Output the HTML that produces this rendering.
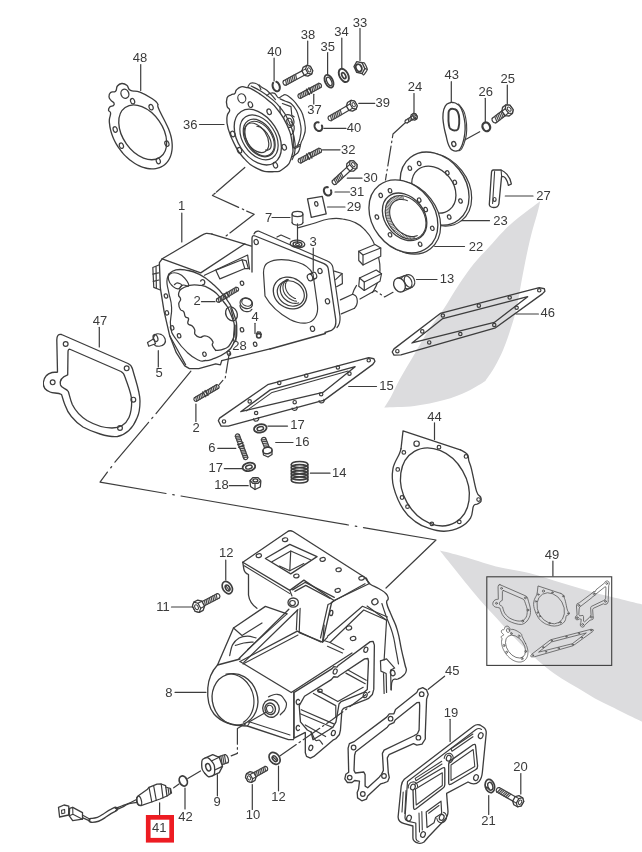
<!DOCTYPE html>
<html><head><meta charset="utf-8"><title>Parts diagram</title>
<style>
html,body{margin:0;padding:0;background:#fff;}
body{width:642px;height:852px;overflow:hidden;font-family:"Liberation Sans",sans-serif;}
svg{display:block;will-change:transform}
svg .mini *{vector-effect:non-scaling-stroke;stroke-width:0.8px}
svg text{font-family:"Liberation Sans",sans-serif;fill:#3a3a3a;stroke:none}
</style></head><body>
<svg width="642" height="852" viewBox="0 0 642 852">
<defs><filter id="soft" x="0" y="0" width="100%" height="100%" filterUnits="objectBoundingBox"><feGaussianBlur stdDeviation="0.45"/></filter></defs>
<rect x="0" y="0" width="642" height="852" fill="#ffffff"/>
<g filter="url(#soft)" fill="none" stroke="#3d3d3d" stroke-linecap="round" stroke-linejoin="round">
<path d="M540.2 201.2 C536.5 204.0 524.2 213.1 518.0 218.1 C511.8 223.1 508.1 226.5 503.2 231.4 C498.3 236.3 493.3 242.3 488.4 247.7 C483.5 253.1 478.5 257.8 473.6 264.0 C468.7 270.2 463.7 277.3 458.8 284.7 C453.9 292.1 448.9 301.0 444.0 308.4 C439.1 315.8 434.1 321.5 429.2 329.1 C424.3 336.7 419.3 345.8 414.4 354.2 C409.5 362.6 403.6 372.2 399.6 379.4 C395.7 386.6 393.3 392.5 390.7 397.2 C388.1 401.9 385.3 405.8 384.2 407.5 C389.2 407.2 404.4 407.2 414.4 406.0 C424.4 404.8 435.1 402.6 444.0 400.1 C452.9 397.6 460.8 394.4 467.7 391.2 C474.6 388.0 482.4 382.6 485.4 380.9 C486.9 378.7 491.3 372.8 494.3 367.6 C497.3 362.4 500.5 356.2 503.2 349.8 C505.9 343.4 508.4 336.0 510.6 329.1 C512.8 322.2 514.8 315.8 516.5 308.4 C518.2 301.0 519.4 292.6 520.9 284.7 C522.4 276.8 523.7 269.4 525.4 261.0 C527.1 252.6 529.3 242.3 531.3 234.4 C533.3 226.5 535.7 219.2 537.2 213.7 C538.7 208.2 539.7 203.3 540.2 201.2 Z" fill="#dcdcde" stroke="none"/>
<path d="M439.9 550.6 C443.8 551.6 453.6 553.9 463.0 556.5 C472.4 559.1 485.0 563.6 496.0 566.4 C507.0 569.1 518.0 570.2 529.0 573.0 C540.0 575.8 551.0 579.7 562.0 583.0 C573.0 586.3 584.0 589.8 595.0 592.8 C606.0 595.8 619.8 599.0 628.0 601.0 C636.2 603.0 641.3 604.2 644.0 604.8 L644 722.5 C641.3 721.2 633.4 717.6 628.0 715.0 C622.6 712.4 617.1 709.5 611.6 706.8 C606.1 704.0 600.5 701.5 595.0 698.5 C589.5 695.5 584.1 691.9 578.6 688.6 C573.1 685.3 567.5 682.3 562.0 678.7 C556.5 675.1 551.1 671.4 545.6 667.0 C540.1 662.6 534.5 657.5 529.0 652.3 C523.5 647.1 518.1 641.6 512.6 635.8 C507.1 630.0 501.5 623.7 496.0 617.6 C490.5 611.5 485.0 605.7 479.5 599.4 C474.0 593.1 467.9 585.7 463.0 579.6 C458.1 573.5 453.7 567.8 449.8 563.0 C445.9 558.2 441.5 552.7 439.9 550.6 Z" fill="#dcdcde" stroke="none"/>
<rect x="486.8" y="576.8" width="124.9" height="88.6" fill="none" stroke-width="1.1" stroke-linejoin="miter"/>
<path d="M166.72 124.97 C169.3 130.32 167.96 127.41 168.94 129.89 C169.91 132.36 169.92 132.38 170.61 134.87 C171.3 137.35 171.31 137.37 171.7 139.81 C172.1 142.26 172.1 142.28 172.19 144.63 C172.29 146.99 172.29 147.01 172.07 149.23 C171.86 151.45 171.86 151.47 171.35 153.52 C170.83 155.56 170.83 155.58 170.02 157.4 C169.22 159.23 169.21 159.25 168.13 160.82 C167.05 162.4 167.04 162.41 165.71 163.7 C164.37 165 164.36 165.01 162.8 165.99 C161.24 166.97 161.22 166.98 159.46 167.64 C157.7 168.3 157.69 168.3 155.76 168.62 C153.84 168.93 153.82 168.94 151.77 168.91 C149.72 168.88 149.7 168.88 147.57 168.5 C145.43 168.13 145.41 168.12 143.23 167.41 C141.05 166.69 141.03 166.69 138.85 165.65 C136.67 164.61 136.64 164.6 134.5 163.26 C132.36 161.92 132.34 161.9 130.28 160.28 C128.22 158.66 128.2 158.65 126.26 156.78 C124.32 154.91 124.3 154.9 122.53 152.82 C120.75 150.74 120.73 150.72 119.15 148.48 C117.56 146.23 117.55 146.21 116.19 143.83 C114.83 141.46 114.82 141.44 113.71 138.99 C112.6 136.53 112.59 136.51 111.76 134.03 C110.92 131.54 110.92 131.52 110.37 129.05 C109.83 126.58 109.82 126.56 109.58 124.15 C109.33 121.75 109.13 122.22 109.39 119.43 C109.65 116.65 110.82 115.31 110.6 113 C110.38 110.69 108.65 111.75 108.5 110.2 C108.35 108.65 108.75 107.97 110 106.8 C111.25 105.62 112.5 106.45 113.5 105.5 C114.5 104.55 114.58 104.22 114 103 C113.42 101.78 112.45 102.15 111.2 100.6 C109.95 99.05 109.15 98.82 109 96.8 C108.85 94.78 108.95 93.9 110.6 92.5 C112.25 91.1 113.9 92.83 115.6 91.2 C117.3 89.58 115.85 87.92 117.4 86 C118.95 84.08 119.45 83.7 121.8 83.5 C124.15 83.3 124.62 83.47 126.8 85.2 C128.97 86.93 127.22 88.68 130.5 90.4 C133.78 92.12 134.45 90.02 139.9 92.1 C145.35 94.17 147.88 95.78 152.3 98.7 C156.73 101.62 156.03 101.35 157.6 103.8 C159.17 106.25 156.32 103.21 158.6 108.5 C160.88 113.79 164.13 119.62 166.72 124.97 Z" stroke-width="1.32" />
<ellipse cx="142.7" cy="132.3" rx="30.4" ry="20" transform="rotate(54.8 142.7 132.3)" stroke-width="1.32"/>
<ellipse cx="124.9" cy="93.8" rx="3.9" ry="4.6" transform="rotate(-20 124.9 93.8)" stroke-width="1.32"/>
<ellipse cx="132.6" cy="101.2" rx="2" ry="2.8" transform="rotate(-20 132.6 101.2)" stroke-width="1.2"/>
<ellipse cx="151.1" cy="107.2" rx="2" ry="2.8" transform="rotate(-20 151.1 107.2)" stroke-width="1.2"/>
<ellipse cx="166.9" cy="143.6" rx="2" ry="2.8" transform="rotate(-20 166.9 143.6)" stroke-width="1.2"/>
<ellipse cx="158.3" cy="161" rx="2" ry="2.8" transform="rotate(-20 158.3 161)" stroke-width="1.2"/>
<ellipse cx="121.4" cy="145.7" rx="2" ry="2.8" transform="rotate(-20 121.4 145.7)" stroke-width="1.2"/>
<ellipse cx="115.2" cy="129.5" rx="2" ry="2.8" transform="rotate(-20 115.2 129.5)" stroke-width="1.2"/>
<path d="M266.8 95.74 C267.53 95.2 268.1 93.95 269.92 93.4 C271.74 92.85 272.6 92.38 274.6 93.4 C276.6 94.42 276.68 97.22 278.5 97.77 C280.32 98.32 280.58 96.4 282.4 95.74 C284.22 95.09 283.75 93.87 286.3 94.96 C288.85 96.05 290.41 97.51 293.32 100.42 C296.24 103.33 296.6 104.17 298.78 107.44 C300.97 110.72 301.15 109.73 302.68 114.46 C304.21 119.19 305.15 122.44 305.34 127.72 C305.52 133 304.45 133.62 303.46 137.08 C302.48 140.54 302.22 139.27 301.12 142.54 C300.03 145.82 300.24 148.21 298.78 151.12 C297.33 154.04 296.7 153.57 294.88 155.02 C293.06 156.48 291.89 156.82 290.98 157.36" stroke-width="1.2" />
<path d="M280.06 98.86 C280.97 99.25 283.7 100.42 285.52 101.2 C287.34 101.98 289.16 101.98 290.98 103.54 C292.8 105.1 295.01 107.83 296.44 110.56 C297.87 113.29 299.04 118.36 299.56 119.92" stroke-width="1.2" />
<path d="M299.56 119.92 C299.82 121.48 301.07 126.16 301.12 129.28 C301.18 132.4 300.53 135.78 299.88 138.64 C299.23 141.5 297.67 145.14 297.22 146.44" stroke-width="1.2" />
<path d="M280.06 106.66 L280.06 116.8 L282.4 117.58" stroke-width="1.2"/>
<path d="M282.4 103.54 L290.98 106.66 L291.76 115.24 L294.1 116.8" stroke-width="1.2"/>
<ellipse cx="288.6" cy="121" rx="5.2" ry="6.6" transform="rotate(-20 288.6 121)" stroke-width="1.2"/>
<ellipse cx="289.6" cy="122" rx="2.6" ry="3.8" transform="rotate(-20 289.6 122)" stroke-width="1.2"/>
<path d="M290.98 121.48 C291.5 122.26 293.71 124.34 294.1 126.16 C294.49 127.98 293.97 130.84 293.32 132.4 C292.67 133.96 290.72 135 290.2 135.52" stroke-width="1.2" />
<path d="M293.32 135.52 L293.32 148 L299.56 144.57" stroke-width="1.2"/>
<path d="M294.57 148.78 L300.34 145.66" stroke-width="1.2"/>
<path d="M259 84.82 C259.52 85.26 260.82 86.56 262.12 87.47 C263.42 88.38 265.24 89.03 266.8 90.28 C268.36 91.53 270.05 93.4 271.48 94.96 C272.91 96.52 274.73 98.86 275.38 99.64" stroke-width="1.2" />
<path d="M248.08 86.38 C248.47 85.86 249.25 83.78 250.42 83.26 C251.59 82.74 253.67 82.87 255.1 83.26 C256.53 83.65 258.04 84.56 259 85.6 C259.96 86.64 260.56 88.85 260.87 89.5" stroke-width="1.2" />
<path d="M251.2 86.07 C253.7 87.4 255.15 87.65 260.56 91.06 C265.97 94.47 266.28 94.49 271.48 98.86 C276.68 103.23 275.49 101.62 280.06 107.44 C284.64 113.27 284.9 112.8 288.64 120.7 C292.39 128.61 292.44 128.97 294.1 137.08 C295.77 145.2 295.42 145.09 294.88 151.12 C294.34 157.16 292.82 157.42 292.07 159.7" stroke-width="1.2" />
<path d="M227.02 98.08 C228.06 95.09 228.84 96.21 230.92 94.96 C233 93.71 233.36 94.73 234.82 93.4 C236.28 92.07 234.72 91.72 236.38 89.97 C238.04 88.22 238.56 87.51 241.06 86.85 C243.56 86.18 243.24 87.06 245.74 87.47 C248.24 87.89 246.89 86.83 250.42 88.41 C253.96 89.99 254.22 90.2 259 93.4 C263.79 96.6 263.37 96.05 268.36 100.42 C273.35 104.79 272.81 103.33 277.72 109.78 C282.63 116.23 282.94 115.87 286.77 124.6 C290.6 133.34 290.83 133.81 292.07 142.54 C293.32 151.28 293.61 150.5 291.45 157.36 C289.29 164.23 289.08 164.46 283.96 168.28 C278.85 172.11 279.33 171.63 272.26 171.72 C265.19 171.8 265.14 172.34 257.44 168.6 C249.75 164.85 249.64 164.41 243.4 157.68 C237.16 150.94 238.12 151.1 234.04 143.32 C229.96 135.54 229.98 135.57 228.11 128.5 C226.24 121.43 226.6 121.67 227.02 116.8 C227.44 111.93 229.67 113.08 229.67 110.25 C229.67 107.42 227.73 109.44 227.02 106.19 C226.31 102.95 225.98 101.08 227.02 98.08 Z" stroke-width="1.32" fill="#fff" />
<ellipse cx="241.8" cy="98.3" rx="3.9" ry="4.6" transform="rotate(-20 241.8 98.3)" stroke-width="1.2"/>
<ellipse cx="257.8" cy="137.1" rx="30.5" ry="20" transform="rotate(57 257.8 137.1)" stroke-width="1.32"/>
<ellipse cx="259" cy="137.4" rx="24.5" ry="16.4" transform="rotate(57 259 137.4)" stroke-width="1.2"/>
<ellipse cx="259.2" cy="138" rx="20.5" ry="13.6" transform="rotate(57 259.2 138)" stroke-width="1.2"/>
<ellipse cx="259.6" cy="138.6" rx="19" ry="12.4" transform="rotate(57 259.6 138.6)" stroke-width="1.08"/>
<ellipse cx="256.5" cy="137.8" rx="16.3" ry="10.2" transform="rotate(57 256.5 137.8)" stroke-width="1.2"/>
<path d="M256.9 126.26 C257.09 126.28 257.65 126.32 258.04 126.41 C258.43 126.49 258.84 126.62 259.25 126.78 C259.66 126.94 260.08 127.13 260.51 127.36 C260.93 127.59 261.36 127.86 261.79 128.15 C262.22 128.44 262.65 128.77 263.07 129.12 C263.5 129.48 263.92 129.86 264.33 130.27 C264.74 130.67 265.15 131.11 265.54 131.56 C265.93 132.01 266.32 132.49 266.68 132.97 C267.05 133.46 267.4 133.97 267.73 134.49 C268.07 135 268.38 135.53 268.67 136.07 C268.97 136.6 269.24 137.15 269.49 137.69 C269.73 138.23 269.96 138.78 270.15 139.32 C270.35 139.86 270.52 140.4 270.67 140.93 C270.81 141.46 270.93 141.99 271.01 142.49 C271.1 143 271.16 143.5 271.19 143.97 C271.22 144.45 271.22 144.91 271.19 145.34 C271.16 145.78 271.1 146.2 271.01 146.58 C270.92 146.97 270.81 147.33 270.66 147.66 C270.52 148 270.35 148.3 270.15 148.57 C269.95 148.84 269.73 149.08 269.48 149.28 C269.23 149.48 268.96 149.65 268.67 149.79 C268.38 149.92 268.06 150.02 267.73 150.08 C267.4 150.13 267.04 150.16 266.68 150.14 C266.31 150.13 265.73 150.01 265.54 149.99" stroke-width="1.2" />
<ellipse cx="250.42" cy="104.63" rx="2.1" ry="2.9" transform="rotate(-20 250.42 104.63)" stroke-width="1.2"/>
<ellipse cx="269.14" cy="111.81" rx="2.1" ry="2.9" transform="rotate(-20 269.14 111.81)" stroke-width="1.2"/>
<ellipse cx="284.27" cy="147.22" rx="2.1" ry="2.9" transform="rotate(-20 284.27 147.22)" stroke-width="1.2"/>
<ellipse cx="275.38" cy="165.16" rx="2.1" ry="2.9" transform="rotate(-20 275.38 165.16)" stroke-width="1.2"/>
<ellipse cx="239.5" cy="150.34" rx="2.1" ry="2.9" transform="rotate(-20 239.5 150.34)" stroke-width="1.2"/>
<ellipse cx="232.79" cy="133.96" rx="2.1" ry="2.9" transform="rotate(-20 232.79 133.96)" stroke-width="1.2"/>
<path d="M364.85 68.64 L362.15 73.49 L356.69 72.45 L353.95 66.56 L356.65 61.71 L362.11 62.75 Z" stroke-width="1.32" fill="#fff"/>
<ellipse cx="358.8" cy="67.9" rx="2.8" ry="3.9" transform="rotate(-25 358.8 67.9)" stroke-width="1.92"/>
<path d="M364.85 68.64 L367.05 69.24" stroke-width="1.2"/>
<path d="M362.11 62.75 C362.35 62.79 363.99 62.48 364.51 63.15 C365.02 63.82 367.33 68.27 367.25 69.44 C367.18 70.62 364.26 74.49 363.75 74.89 C363.24 75.3 362.31 73.63 362.15 73.49" stroke-width="1.2" />
<ellipse cx="343.8" cy="75.4" rx="4.3" ry="7.2" transform="rotate(-28 343.8 75.4)" stroke-width="1.92"/>
<ellipse cx="343.8" cy="75.6" rx="1.7" ry="3.2" transform="rotate(-28 343.8 75.6)" stroke-width="1.68"/>
<ellipse cx="329" cy="81.2" rx="3.9" ry="6.8" transform="rotate(-25 329 81.2)" stroke-width="1.8"/>
<ellipse cx="329.2" cy="81.4" rx="2.2" ry="4.5" transform="rotate(-25 329.2 81.4)" stroke-width="1.32"/>
<path d="M304.26 69.6 L283.51 80.8" stroke-width="1.2"/>
<path d="M306.64 74 L285.89 85.2" stroke-width="1.2"/>
<path d="M283.51 80.8 C283.42 81.09 282.86 81.86 282.96 82.52 C283.07 83.17 283.66 84.27 284.15 84.72 C284.64 85.16 285.6 85.12 285.89 85.2" stroke-width="1.2" />
<line x1="295.54" y1="74.31" x2="296.69" y2="79.37" stroke-width="1.2" stroke="#4a4a4a"/>
<line x1="293.87" y1="75.21" x2="295.01" y2="80.27" stroke-width="1.2" stroke="#4a4a4a"/>
<line x1="292.2" y1="76.11" x2="293.34" y2="81.18" stroke-width="1.2" stroke="#4a4a4a"/>
<line x1="290.53" y1="77.01" x2="291.67" y2="82.08" stroke-width="1.2" stroke="#4a4a4a"/>
<line x1="288.85" y1="77.92" x2="290" y2="82.98" stroke-width="1.2" stroke="#4a4a4a"/>
<line x1="287.18" y1="78.82" x2="288.33" y2="83.88" stroke-width="1.2" stroke="#4a4a4a"/>
<line x1="285.51" y1="79.72" x2="286.65" y2="84.79" stroke-width="1.2" stroke="#4a4a4a"/>
<path d="M301.9 70.87 L303.08 67.4 L306.77 65.4 L310.32 66.33 L312.7 70.73 L311.52 74.2 L307.83 76.2 L304.28 75.27 Z" stroke-width="1.32" fill="#fff"/>
<path d="M305.6 68.88 L306.77 65.4 L310.32 66.33 L312.7 70.73 L311.52 74.2 L307.97 73.28 Z" stroke-width="1.2" fill="#fff"/>
<path d="M305.6 68.88 L301.9 70.87" stroke-width="1.08"/>
<path d="M307.97 73.28 L304.28 75.27" stroke-width="1.08"/>
<ellipse cx="309.15" cy="69.8" rx="1.4" ry="2.25" transform="rotate(151.64 309.15 69.8)" stroke-width="0.96"/>
<path d="M276.32 81.75 C276.45 81.82 276.84 81.98 277.1 82.15 C277.35 82.32 277.6 82.52 277.84 82.75 C278.07 82.98 278.3 83.25 278.5 83.53 C278.7 83.81 278.89 84.12 279.05 84.44 C279.21 84.76 279.35 85.1 279.47 85.44 C279.58 85.79 279.67 86.14 279.73 86.49 C279.79 86.84 279.82 87.2 279.82 87.54 C279.83 87.88 279.8 88.22 279.75 88.53 C279.69 88.84 279.61 89.15 279.5 89.42 C279.39 89.69 279.26 89.95 279.1 90.17 C278.94 90.39 278.76 90.58 278.56 90.74 C278.36 90.89 278.14 91.01 277.91 91.1 C277.68 91.18 277.43 91.23 277.18 91.24 C276.93 91.25 276.66 91.22 276.4 91.15 C276.14 91.08 275.87 90.98 275.61 90.84 C275.35 90.7 275.09 90.52 274.85 90.31 C274.61 90.11 274.37 89.86 274.16 89.6 C273.94 89.34 273.74 89.05 273.56 88.74 C273.38 88.43 273.22 88.1 273.08 87.77 C272.95 87.43 272.84 87.08 272.76 86.73 C272.68 86.38 272.62 86.02 272.59 85.68 C272.57 85.33 272.57 84.98 272.6 84.66 C272.63 84.33 272.69 84.01 272.78 83.72 C272.87 83.43 273.06 83.05 273.12 82.91" stroke-width="2.04" />
<path d="M300.69 98.32 L320.89 87.42" stroke-width="1.2"/>
<path d="M298.51 94.28 L318.71 83.38" stroke-width="1.2"/>
<path d="M300.69 98.32 C300.41 98.26 299.47 98.33 299 97.93 C298.54 97.53 297.99 96.51 297.91 95.91 C297.83 95.3 298.41 94.55 298.51 94.28" stroke-width="1.2" />
<path d="M320.89 87.42 C320.99 87.15 321.57 86.4 321.49 85.79 C321.41 85.19 320.86 84.17 320.4 83.77 C319.93 83.37 318.99 83.44 318.71 83.38" stroke-width="1.2" />
<line x1="300.78" y1="98.28" x2="299.83" y2="93.56" stroke-width="1.2" stroke="#4a4a4a"/>
<line x1="302.45" y1="97.37" x2="301.5" y2="92.66" stroke-width="1.2" stroke="#4a4a4a"/>
<line x1="304.12" y1="96.47" x2="303.17" y2="91.76" stroke-width="1.2" stroke="#4a4a4a"/>
<line x1="305.8" y1="95.57" x2="304.84" y2="90.86" stroke-width="1.2" stroke="#4a4a4a"/>
<line x1="307.47" y1="94.67" x2="306.52" y2="89.95" stroke-width="1.2" stroke="#4a4a4a"/>
<line x1="311.15" y1="92.68" x2="310.2" y2="87.97" stroke-width="1.2" stroke="#4a4a4a"/>
<line x1="312.83" y1="91.78" x2="311.87" y2="87.06" stroke-width="1.2" stroke="#4a4a4a"/>
<line x1="314.5" y1="90.87" x2="313.55" y2="86.16" stroke-width="1.2" stroke="#4a4a4a"/>
<line x1="316.17" y1="89.97" x2="315.22" y2="85.26" stroke-width="1.2" stroke="#4a4a4a"/>
<line x1="317.84" y1="89.07" x2="316.89" y2="84.36" stroke-width="1.2" stroke="#4a4a4a"/>
<line x1="319.51" y1="88.17" x2="318.56" y2="83.45" stroke-width="1.2" stroke="#4a4a4a"/>
<line x1="309.37" y1="94.43" x2="306.53" y2="89.15" stroke-width="1.44"/>
<line x1="311.66" y1="93.2" x2="308.81" y2="87.92" stroke-width="1.44"/>
<path d="M348.73 104.7 L328.54 116.44" stroke-width="1.2"/>
<path d="M351.24 109.02 L331.06 120.76" stroke-width="1.2"/>
<path d="M328.54 116.44 C328.46 116.73 327.92 117.52 328.05 118.17 C328.17 118.82 328.8 119.9 329.3 120.33 C329.81 120.77 330.77 120.69 331.06 120.76" stroke-width="1.2" />
<line x1="340.25" y1="109.63" x2="341.55" y2="114.65" stroke-width="1.2" stroke="#4a4a4a"/>
<line x1="338.61" y1="110.58" x2="339.91" y2="115.61" stroke-width="1.2" stroke="#4a4a4a"/>
<line x1="336.96" y1="111.54" x2="338.27" y2="116.56" stroke-width="1.2" stroke="#4a4a4a"/>
<line x1="335.32" y1="112.49" x2="336.63" y2="117.52" stroke-width="1.2" stroke="#4a4a4a"/>
<line x1="333.68" y1="113.45" x2="334.98" y2="118.48" stroke-width="1.2" stroke="#4a4a4a"/>
<line x1="332.04" y1="114.41" x2="333.34" y2="119.43" stroke-width="1.2" stroke="#4a4a4a"/>
<line x1="330.4" y1="115.36" x2="331.7" y2="120.39" stroke-width="1.2" stroke="#4a4a4a"/>
<path d="M346.41 106.05 L347.47 102.53 L351.1 100.42 L354.68 101.23 L357.19 105.55 L356.13 109.07 L352.5 111.18 L348.92 110.37 Z" stroke-width="1.32" fill="#fff"/>
<path d="M350.04 103.93 L351.1 100.42 L354.68 101.23 L357.19 105.55 L356.13 109.07 L352.55 108.25 Z" stroke-width="1.2" fill="#fff"/>
<path d="M350.04 103.93 L346.41 106.05" stroke-width="1.08"/>
<path d="M352.55 108.25 L348.92 110.37" stroke-width="1.08"/>
<ellipse cx="353.62" cy="104.74" rx="1.4" ry="2.25" transform="rotate(149.81 353.62 104.74)" stroke-width="0.96"/>
<path d="M321.87 125.52 C321.92 125.68 322.09 126.15 322.16 126.46 C322.23 126.78 322.27 127.1 322.27 127.41 C322.28 127.72 322.26 128.03 322.2 128.32 C322.15 128.61 322.06 128.89 321.95 129.15 C321.84 129.41 321.7 129.65 321.53 129.86 C321.37 130.07 321.17 130.26 320.96 130.41 C320.75 130.57 320.52 130.69 320.27 130.78 C320.03 130.88 319.76 130.94 319.49 130.96 C319.23 130.98 318.94 130.97 318.66 130.93 C318.39 130.88 318.1 130.8 317.82 130.69 C317.55 130.58 317.27 130.43 317.01 130.26 C316.75 130.09 316.49 129.88 316.26 129.65 C316.02 129.43 315.8 129.17 315.61 128.9 C315.42 128.64 315.24 128.34 315.09 128.05 C314.95 127.75 314.83 127.43 314.73 127.12 C314.64 126.81 314.58 126.48 314.55 126.17 C314.52 125.85 314.52 125.54 314.55 125.24 C314.58 124.94 314.64 124.64 314.73 124.37 C314.82 124.1 314.94 123.84 315.08 123.61 C315.23 123.38 315.4 123.17 315.59 122.99 C315.79 122.81 316.01 122.66 316.24 122.54 C316.47 122.42 316.73 122.34 316.99 122.29 C317.25 122.24 317.52 122.22 317.8 122.24 C318.08 122.25 318.5 122.37 318.64 122.39" stroke-width="2.04" />
<path d="M300.88 163.03 L320.98 152.33" stroke-width="1.2"/>
<path d="M298.72 158.97 L318.82 148.27" stroke-width="1.2"/>
<path d="M300.88 163.03 C300.6 162.96 299.65 163.03 299.19 162.63 C298.73 162.22 298.19 161.21 298.11 160.6 C298.03 159.99 298.62 159.24 298.72 158.97" stroke-width="1.2" />
<path d="M320.98 152.33 C321.08 152.06 321.67 151.31 321.59 150.7 C321.51 150.09 320.97 149.08 320.51 148.67 C320.05 148.27 319.1 148.34 318.82 148.27" stroke-width="1.2" />
<line x1="300.97" y1="162.98" x2="300.04" y2="158.26" stroke-width="1.2" stroke="#4a4a4a"/>
<line x1="302.65" y1="162.09" x2="301.72" y2="157.37" stroke-width="1.2" stroke="#4a4a4a"/>
<line x1="304.32" y1="161.2" x2="303.4" y2="156.48" stroke-width="1.2" stroke="#4a4a4a"/>
<line x1="306" y1="160.3" x2="305.07" y2="155.59" stroke-width="1.2" stroke="#4a4a4a"/>
<line x1="307.68" y1="159.41" x2="306.75" y2="154.69" stroke-width="1.2" stroke="#4a4a4a"/>
<line x1="311.3" y1="157.48" x2="310.37" y2="152.77" stroke-width="1.2" stroke="#4a4a4a"/>
<line x1="312.98" y1="156.59" x2="312.05" y2="151.87" stroke-width="1.2" stroke="#4a4a4a"/>
<line x1="314.65" y1="155.7" x2="313.73" y2="150.98" stroke-width="1.2" stroke="#4a4a4a"/>
<line x1="316.33" y1="154.81" x2="315.4" y2="150.09" stroke-width="1.2" stroke="#4a4a4a"/>
<line x1="318.01" y1="153.91" x2="317.08" y2="149.19" stroke-width="1.2" stroke="#4a4a4a"/>
<line x1="319.68" y1="153.02" x2="318.76" y2="148.3" stroke-width="1.2" stroke="#4a4a4a"/>
<line x1="309.51" y1="159.23" x2="306.69" y2="153.93" stroke-width="1.44"/>
<line x1="311.8" y1="158.01" x2="308.98" y2="152.71" stroke-width="1.44"/>
<path d="M348.56 165.6 L332.29 180.77" stroke-width="1.2"/>
<path d="M351.97 169.26 L335.71 184.43" stroke-width="1.2"/>
<path d="M332.29 180.77 C332.28 181.07 331.93 181.97 332.2 182.57 C332.46 183.18 333.32 184.09 333.9 184.4 C334.49 184.71 335.4 184.42 335.71 184.43" stroke-width="1.2" />
<line x1="340.94" y1="172.71" x2="343.33" y2="177.32" stroke-width="1.2" stroke="#4a4a4a"/>
<line x1="339.55" y1="174.01" x2="341.94" y2="178.62" stroke-width="1.2" stroke="#4a4a4a"/>
<line x1="338.16" y1="175.3" x2="340.55" y2="179.91" stroke-width="1.2" stroke="#4a4a4a"/>
<line x1="336.77" y1="176.6" x2="339.16" y2="181.21" stroke-width="1.2" stroke="#4a4a4a"/>
<line x1="335.38" y1="177.89" x2="337.77" y2="182.51" stroke-width="1.2" stroke="#4a4a4a"/>
<line x1="333.99" y1="179.19" x2="336.38" y2="183.8" stroke-width="1.2" stroke="#4a4a4a"/>
<path d="M346.6 167.43 L346.85 163.78 L349.93 160.91 L353.59 160.91 L357 164.57 L356.75 168.22 L353.67 171.09 L350.01 171.09 Z" stroke-width="1.32" fill="#fff"/>
<path d="M349.67 164.57 L349.93 160.91 L353.59 160.91 L357 164.57 L356.75 168.22 L353.08 168.23 Z" stroke-width="1.2" fill="#fff"/>
<path d="M349.67 164.57 L346.6 167.43" stroke-width="1.08"/>
<path d="M353.08 168.23 L350.01 171.09" stroke-width="1.08"/>
<ellipse cx="353.34" cy="164.57" rx="1.4" ry="2.25" transform="rotate(137 353.34 164.57)" stroke-width="0.96"/>
<path d="M330.97 190.24 C331.01 190.39 331.18 190.84 331.24 191.14 C331.31 191.44 331.34 191.75 331.34 192.05 C331.35 192.35 331.32 192.65 331.27 192.93 C331.22 193.21 331.13 193.48 331.02 193.73 C330.91 193.97 330.77 194.2 330.61 194.41 C330.45 194.61 330.26 194.79 330.06 194.94 C329.85 195.09 329.62 195.22 329.39 195.31 C329.15 195.4 328.89 195.45 328.63 195.48 C328.37 195.5 328.1 195.5 327.83 195.45 C327.56 195.41 327.28 195.34 327.01 195.23 C326.75 195.13 326.48 194.99 326.23 194.82 C325.97 194.66 325.73 194.46 325.5 194.25 C325.28 194.03 325.07 193.79 324.88 193.53 C324.7 193.28 324.53 193 324.39 192.71 C324.25 192.43 324.13 192.12 324.05 191.82 C323.96 191.52 323.9 191.21 323.88 190.91 C323.85 190.61 323.85 190.3 323.88 190.02 C323.91 189.73 323.97 189.44 324.06 189.18 C324.15 188.92 324.27 188.67 324.41 188.45 C324.55 188.23 324.72 188.02 324.91 187.85 C325.09 187.68 325.31 187.53 325.53 187.42 C325.76 187.3 326.01 187.22 326.26 187.17 C326.51 187.12 326.78 187.1 327.05 187.11 C327.32 187.13 327.73 187.23 327.86 187.26" stroke-width="2.04" />
<path d="M307.5 198.8 L322.3 196.3 L326.2 213.8 L311.3 217.4 Z" stroke-width="1.32" fill="#fff"/>
<ellipse cx="316.3" cy="203.9" rx="1.6" ry="2.3" transform="rotate(-15 316.3 203.9)" stroke-width="1.2"/>
<path d="M61.5 334.5 L128 363.5 Q131.5 365 132.5 369 C136 382 140 392 140 401 C140 408 139.5 413 137 418 C133 428 126 434.5 117.5 436.5 C108 437.5 92 432 83 427 C74 421 68 414 65 405 C63 400 62.5 397 61.5 394.5 C58 392.5 53 393.5 50 392 C45 390 43 386 43.3 382.5 C44 377 48 373.5 52 372.5 C54 372 56 372.5 57.5 372 L56.8 340 Q56.8 333.5 61.5 334.5 Z" stroke-width="1.32" />
<path d="M70.5 349.5 L121 371.5 Q124 373 125 377 C128 386 131.7 394 131.7 401 C131.7 408 131 413 129 417.5 C126 424 120 428 112 428 C104 428 94 424.5 87 420.5 C80 416 75 410 72.3 404.5 C70 399 69.5 395 68.3 391.5 C66 388 61.5 388.5 60.5 385 C59.5 381 61.5 377 67.7 374.8 L68 352 Q68 348.5 70.5 349.5 Z" stroke-width="1.32" />
<circle cx="65.67" cy="344" r="2.4" stroke-width="1.2"/>
<circle cx="126.67" cy="368.33" r="2.4" stroke-width="1.2"/>
<circle cx="133.33" cy="399.67" r="2.4" stroke-width="1.2"/>
<circle cx="120" cy="428" r="2.4" stroke-width="1.2"/>
<circle cx="52.67" cy="382.33" r="2.4" stroke-width="1.2"/>
<path d="M297.5 228 C301.5 226.87 304.17 226.15 312.5 223.75 C320.83 221.35 320.75 220.27 328.75 219 C336.75 217.73 335.5 218.07 342.5 219 C349.5 219.93 349 219.57 355 222.5 C361 225.43 360.2 225 365 230 C369.8 235 369.53 234.58 373 241.25 C376.47 247.92 376.13 247.33 378 255 C379.87 262.67 380.13 262.67 380 270 C379.87 277.33 379.5 276.5 377.5 282.5 C375.5 288.5 373.83 289.83 372.5 292.5" stroke-width="1.2" />
<path d="M358.75 251.25 L375 244.5 L380.75 248 L380.75 256.25 L363 265 L358.75 260.5 Z" stroke-width="1.2" fill="#fff"/>
<path d="M358.75 251.25 L363 255 L380.75 248" stroke-width="1.2"/>
<path d="M363 255 L363 265" stroke-width="1.2"/>
<path d="M359.5 278 L376.25 270 L381.5 273.75 L380 281.25 L364.25 290.5 L358.75 286.25 Z" stroke-width="1.2" fill="#fff"/>
<path d="M359.5 278 L364.25 282 L381.5 273.75" stroke-width="1.2"/>
<path d="M364.25 282 L364.25 290.5" stroke-width="1.2"/>
<path d="M340.4 299.9 L352.6 294.2" stroke-width="1.2"/>
<path d="M341.3 313.9 L354.5 308.3" stroke-width="1.2"/>
<path d="M352.6 294.2 C353.2 294.58 355.42 295.37 356.2 296.5 C356.98 297.63 357.23 299.58 357.3 301 C357.37 302.42 357.07 303.78 356.6 305 C356.13 306.22 354.85 307.75 354.5 308.3" stroke-width="1.2" />
<path d="M356.5 285.5 C356.08 286.25 354.65 288.55 354 290 C353.35 291.45 352.83 293.5 352.6 294.2" stroke-width="1.2" />
<path d="M334.3 271.2 L342.1 273.5 L342.4 283.6 L336.6 286.7" stroke-width="1.2"/>
<path d="M342.1 273.5 L335.6 279.6" stroke-width="1.08"/>
<path d="M252 238 L254.5 232.5 L259 231 L327.3 261 L332.9 267 L340.2 316.5 L338.3 326 L332.7 330 L325 332.5 L270 348.8 L250 300 Z" fill="#fff" stroke="none"/>
<path d="M252 272 L252 238.5 Q252 234.8 255.2 236 L323.4 263.4 Q327.6 265.2 328.2 268.5 L335.8 320 Q336.5 328 331.5 330.3 L325 332.5" stroke-width="1.32" />
<path d="M254 234 Q255.5 230.5 259 231.2 L327.3 261 Q332.2 263.2 332.9 267.5 L340 316.5 Q340.5 324 337 327.5" stroke-width="1.2" />
<path d="M267.5 263 C275 258.5 286 259 297 262 C304 264 310 268 313 274 L317.5 306 C318.5 315 314 322 306.5 323 C300 324 294 321.5 290 319.5 C280 314 270 305 265 296 L263.5 273 C263.5 268 265 264.5 267.5 263 Z" stroke-width="1.2" />
<ellipse cx="290" cy="293" rx="17.5" ry="15" transform="rotate(35 290 293)" stroke-width="1.32"/>
<ellipse cx="290.8" cy="293.5" rx="14.2" ry="12" transform="rotate(35 290.8 293.5)" stroke-width="1.2"/>
<path d="M298.58 302.95 C298.31 303 297.53 303.19 297 303.26 C296.46 303.33 295.91 303.37 295.35 303.37 C294.8 303.37 294.23 303.34 293.67 303.27 C293.11 303.2 292.54 303.1 291.98 302.96 C291.42 302.82 290.86 302.65 290.31 302.45 C289.77 302.25 289.22 302.01 288.7 301.75 C288.17 301.49 287.65 301.19 287.15 300.87 C286.66 300.55 286.17 300.2 285.72 299.82 C285.26 299.45 284.82 299.05 284.4 298.63 C283.99 298.21 283.6 297.77 283.25 297.31 C282.89 296.85 282.55 296.37 282.26 295.88 C281.96 295.39 281.69 294.89 281.45 294.38 C281.22 293.86 281.02 293.34 280.85 292.81 C280.69 292.29 280.56 291.76 280.46 291.23 C280.37 290.7 280.31 290.16 280.29 289.64 C280.27 289.11 280.29 288.59 280.34 288.08 C280.39 287.57 280.48 287.06 280.61 286.57 C280.73 286.08 280.9 285.6 281.09 285.14 C281.29 284.68 281.52 284.23 281.78 283.81 C282.05 283.39 282.35 282.99 282.67 282.62 C283 282.24 283.36 281.89 283.74 281.56 C284.12 281.24 284.53 280.94 284.97 280.68 C285.4 280.41 285.86 280.17 286.34 279.97 C286.81 279.77 287.58 279.54 287.82 279.45" stroke-width="1.2" />
<path d="M296.53 301.19 C296.31 301.16 295.65 301.09 295.22 301.01 C294.78 300.92 294.34 300.82 293.9 300.7 C293.47 300.57 293.04 300.43 292.61 300.26 C292.18 300.1 291.76 299.91 291.35 299.71 C290.93 299.51 290.53 299.29 290.13 299.05 C289.73 298.81 289.35 298.55 288.97 298.28 C288.6 298.01 288.23 297.72 287.88 297.41 C287.53 297.11 287.2 296.79 286.88 296.46 C286.56 296.13 286.25 295.79 285.97 295.43 C285.68 295.08 285.41 294.71 285.16 294.34 C284.91 293.97 284.68 293.58 284.47 293.2 C284.26 292.81 284.07 292.41 283.9 292.01 C283.73 291.61 283.59 291.2 283.46 290.8 C283.34 290.39 283.23 289.98 283.15 289.57 C283.07 289.16 283.01 288.75 282.98 288.35 C282.94 287.94 282.93 287.53 282.94 287.13 C282.95 286.74 282.99 286.34 283.05 285.95 C283.1 285.56 283.18 285.18 283.29 284.81 C283.39 284.43 283.51 284.07 283.66 283.72 C283.81 283.36 283.98 283.02 284.17 282.69 C284.35 282.36 284.57 282.04 284.8 281.74 C285.03 281.44 285.28 281.15 285.54 280.88 C285.81 280.61 286.1 280.36 286.4 280.12 C286.7 279.88 287.2 279.57 287.36 279.46" stroke-width="1.08" />
<path d="M295.49 298.56 C295.32 298.5 294.8 298.31 294.46 298.17 C294.12 298.03 293.79 297.87 293.46 297.7 C293.13 297.54 292.8 297.35 292.49 297.16 C292.17 296.97 291.85 296.77 291.55 296.56 C291.24 296.34 290.95 296.12 290.66 295.88 C290.37 295.65 290.09 295.41 289.82 295.15 C289.55 294.9 289.29 294.64 289.04 294.37 C288.78 294.1 288.54 293.82 288.32 293.54 C288.09 293.26 287.87 292.97 287.67 292.67 C287.46 292.37 287.27 292.07 287.09 291.77 C286.91 291.46 286.75 291.15 286.59 290.83 C286.44 290.52 286.3 290.2 286.18 289.88 C286.05 289.56 285.94 289.24 285.85 288.92 C285.75 288.59 285.67 288.27 285.61 287.95 C285.54 287.62 285.49 287.3 285.46 286.98 C285.42 286.66 285.4 286.34 285.39 286.02 C285.39 285.7 285.4 285.39 285.42 285.08 C285.45 284.77 285.49 284.46 285.55 284.16 C285.6 283.86 285.67 283.56 285.76 283.27 C285.84 282.98 285.94 282.7 286.06 282.42 C286.17 282.14 286.3 281.87 286.44 281.61 C286.59 281.35 286.74 281.1 286.91 280.86 C287.08 280.62 287.27 280.38 287.46 280.16 C287.66 279.93 287.99 279.63 288.09 279.52" stroke-width="1.08" />
<ellipse cx="256.2" cy="242" rx="2.1" ry="2.6" transform="rotate(-15 256.2 242)" stroke-width="1.2"/>
<ellipse cx="320" cy="271" rx="2.1" ry="2.6" transform="rotate(-15 320 271)" stroke-width="1.2"/>
<ellipse cx="327.5" cy="301.3" rx="2.1" ry="2.6" transform="rotate(-15 327.5 301.3)" stroke-width="1.2"/>
<ellipse cx="312.5" cy="328.8" rx="2.1" ry="2.6" transform="rotate(-15 312.5 328.8)" stroke-width="1.2"/>
<ellipse cx="314" cy="275.5" rx="2.6" ry="3.4" transform="rotate(-20 314 275.5)" stroke-width="1.2"/>
<path d="M313 272.2 L309 274.3" stroke-width="1.2"/>
<path d="M315 278.8 L311 280.6" stroke-width="1.2"/>
<ellipse cx="310" cy="277.5" rx="2.6" ry="3.4" transform="rotate(-20 310 277.5)" stroke-width="1.2" fill="#fff"/>
<ellipse cx="297.5" cy="244" rx="7.3" ry="3.8" transform="rotate(5 297.5 244)" stroke-width="1.32"/>
<ellipse cx="297.5" cy="244.3" rx="4.4" ry="2.3" transform="rotate(5 297.5 244.3)" stroke-width="1.56"/>
<ellipse cx="297.5" cy="244.5" rx="2" ry="1" transform="rotate(5 297.5 244.5)" stroke-width="1.2"/>
<path d="M277 237 L281 235 L290 239" stroke-width="1.2"/>
<ellipse cx="297.5" cy="214" rx="5.4" ry="2.6" transform="rotate(0 297.5 214)" stroke-width="1.2"/>
<line x1="292.1" y1="214" x2="292.1" y2="222.5" stroke-width="1.2"/>
<line x1="302.9" y1="214" x2="302.9" y2="222.5" stroke-width="1.2"/>
<path d="M302.9 222.5 C302.89 222.56 302.88 222.73 302.85 222.84 C302.82 222.95 302.78 223.06 302.72 223.17 C302.66 223.28 302.58 223.39 302.49 223.49 C302.4 223.6 302.29 223.7 302.18 223.8 C302.06 223.9 301.93 223.99 301.78 224.08 C301.64 224.17 301.48 224.26 301.32 224.34 C301.15 224.42 300.97 224.49 300.79 224.56 C300.6 224.63 300.4 224.7 300.2 224.75 C300 224.81 299.78 224.86 299.57 224.9 C299.35 224.95 299.12 224.98 298.9 225.01 C298.67 225.04 298.44 225.06 298.2 225.08 C297.97 225.09 297.73 225.1 297.5 225.1 C297.27 225.1 297.03 225.09 296.8 225.08 C296.56 225.06 296.33 225.04 296.1 225.01 C295.88 224.98 295.65 224.95 295.43 224.9 C295.22 224.86 295 224.81 294.8 224.75 C294.6 224.7 294.4 224.63 294.21 224.56 C294.03 224.49 293.85 224.42 293.68 224.34 C293.52 224.26 293.36 224.17 293.22 224.08 C293.07 223.99 292.94 223.9 292.82 223.8 C292.71 223.7 292.6 223.6 292.51 223.49 C292.42 223.39 292.34 223.28 292.28 223.17 C292.22 223.06 292.18 222.95 292.15 222.84 C292.12 222.73 292.11 222.56 292.1 222.5" stroke-width="1.2" />
<path d="M162.21 258.8 C165.09 257.1 178.67 249.09 183.8 246.03 C188.94 242.98 197.7 237.57 200.7 235.89 C203.71 234.21 204.84 233.7 206.34 233.45 C207.84 233.2 211.22 233.94 211.97 234.01" stroke-width="1.32" />
<path d="M211.97 234.01 L251.41 246.03" stroke-width="1.32"/>
<path d="M162.21 258.8 L200.7 272.89 L244.84 243.78" stroke-width="1.32"/>
<path d="M204.46 275.33 L247.65 255.05 L249.53 269.13" stroke-width="1.2"/>
<path d="M215.73 270.07 L242.02 259.74 L244.84 268.57 L219.86 278.9 L215.73 270.07" stroke-width="1.2"/>
<path d="M242.02 259.74 L246.15 260.68 L248.4 268.57 L244.84 268.57" stroke-width="1.2"/>
<path d="M162.21 258.8 L159.39 262.56 L160.33 287.91 L164.08 311.38 L169.72 335.8 L176.29 352.7 L184.74 365.85 L189.44 368.66 L198.83 368.66 L215.73 363.97 L220.42 364.91 L221.74 360.59" stroke-width="1.32"/>
<path d="M159.39 264.81 L152.82 267.44 L153.76 287.35 L159.77 289.79" stroke-width="1.2"/>
<path d="M152.82 274.2 L158.45 272.89" stroke-width="1.2"/>
<path d="M153.19 281.34 L159.01 280.02" stroke-width="1.2"/>
<path d="M156.01 266.69 L156.38 288.47" stroke-width="1.2"/>
<path d="M221.74 360.59 L270 348.94" stroke-width="1.32"/>
<path d="M270 349 L325.5 333.5" stroke-width="1.32"/>
<path d="M169.72 335.8 L185.68 364.91" stroke-width="1.2"/>
<path d="M168.78 274.2 C170.53 273.1 170.85 271.17 175.35 270.07 C179.86 268.97 179.42 268.97 185.68 270.07 C191.94 271.17 191.82 270.7 198.83 274.2 C205.84 277.71 204.96 277.06 211.97 283.22 C218.98 289.38 219.36 289.29 225.12 297.3 C230.88 305.31 230.46 304.5 233.57 313.26 C236.67 322.03 236.76 322.15 236.76 330.16 C236.76 338.18 236.67 337.2 233.57 343.31 C230.46 349.42 230.88 348.82 225.12 353.08 C219.36 357.33 217.48 357.27 211.97 359.27 C206.46 361.28 206.46 360.24 204.46 360.59" stroke-width="1.32" />
<path d="M168.78 274.2 C168.28 276.1 166.9 276.43 166.9 281.34 C166.9 286.25 167.53 285.59 168.78 292.61 C170.03 299.62 171.1 298.62 171.6 307.63 C172.1 316.64 169.41 317.9 170.66 326.41 C171.91 334.92 171.78 332.54 176.29 339.55 C180.8 346.56 181.55 347.19 187.56 352.7 C193.57 358.21 194.32 358.11 198.83 360.21 C203.33 362.31 202.96 360.49 204.46 360.59" stroke-width="1.2" />
<path d="M180.05 289.79 C182.05 288.79 182.8 287.28 187.56 286.03 C192.32 284.78 191.88 284.34 197.89 285.09 C203.9 285.85 203.58 284.84 210.09 288.85 C216.6 292.86 216.79 293.36 222.3 300.12 C227.81 306.88 227.5 306.19 230.75 314.2 C234.01 322.21 234.51 322.4 234.51 330.16 C234.51 337.93 233.51 338.3 230.75 343.31 C228 348.32 228.18 347.04 224.18 348.94 C220.17 350.85 217.98 350.05 215.73 350.45" stroke-width="1.32" />
<path d="M180.05 289.79 C179.65 291.14 178.39 292.36 178.54 294.86 C178.69 297.36 180.56 296.77 180.61 299.18 C180.66 301.58 178.78 301.12 178.73 303.87 C178.68 306.63 179.07 307.4 180.42 309.51 C181.77 311.61 182.5 309.86 183.8 311.76 C185.1 313.66 184.05 314.84 185.31 316.64 C186.56 318.45 187.8 316.67 188.5 318.52 C189.2 320.37 186.93 321.59 187.93 323.59 C188.94 325.59 190.45 324.38 192.25 326.03 C194.06 327.69 193.94 327.59 194.69 329.79 C195.45 331.99 193.72 332.29 195.07 334.3 C196.42 336.3 197.26 336.9 199.77 337.3 C202.27 337.7 201.96 335.8 204.46 335.8 C206.96 335.8 206.9 335.7 209.15 337.3 C211.41 338.9 212.06 339.7 212.91 341.81 C213.76 343.91 211.6 342.88 212.35 345.19 C213.1 347.49 214.83 349.04 215.73 350.45" stroke-width="1.32" />
<path d="M169.72 274.2 C172.22 272.35 173.91 272.05 178.17 273.45 C182.43 274.85 182.93 276.1 185.68 279.46 C188.44 282.82 189.25 284.53 188.5 286.03 C187.75 287.54 185.62 284.34 182.86 285.09 C180.11 285.85 180.92 288.6 178.17 288.85 C175.41 289.1 175.04 288.29 172.54 286.03 C170.03 283.78 169.53 283.55 168.78 280.4 C168.03 277.24 167.21 276.05 169.72 274.2 Z" stroke-width="1.2" />
<path d="M174.41 284.72 C174.88 284.41 176.04 282.84 177.23 282.84 C178.42 282.84 181.08 283.97 181.55 284.72 C182.02 285.47 180.3 286.91 180.05 287.35" stroke-width="1.2" />
<ellipse cx="165.96" cy="295.99" rx="1.7" ry="2.2" transform="rotate(-15 165.96 295.99)" stroke-width="1.2"/>
<ellipse cx="166.9" cy="312.89" rx="1.7" ry="2.2" transform="rotate(-15 166.9 312.89)" stroke-width="1.2"/>
<ellipse cx="172.16" cy="327.91" rx="1.7" ry="2.2" transform="rotate(-15 172.16 327.91)" stroke-width="1.2"/>
<ellipse cx="179.11" cy="335.8" rx="1.7" ry="2.2" transform="rotate(-15 179.11 335.8)" stroke-width="1.2"/>
<ellipse cx="204.46" cy="354.2" rx="1.7" ry="2.2" transform="rotate(-15 204.46 354.2)" stroke-width="1.2"/>
<ellipse cx="228.87" cy="353.26" rx="1.7" ry="2.2" transform="rotate(-15 228.87 353.26)" stroke-width="1.2"/>
<ellipse cx="242.02" cy="283.22" rx="1.7" ry="2.2" transform="rotate(-15 242.02 283.22)" stroke-width="1.2"/>
<ellipse cx="242.02" cy="329.79" rx="1.7" ry="2.2" transform="rotate(-15 242.02 329.79)" stroke-width="1.2"/>
<ellipse cx="255.16" cy="344.25" rx="1.7" ry="2.2" transform="rotate(-15 255.16 344.25)" stroke-width="1.2"/>
<path d="M200.68 280.98 C200.81 280.82 201.16 280.24 201.48 280.03 C201.8 279.81 202.22 279.68 202.58 279.68 C202.95 279.68 203.36 279.81 203.68 280.03 C204 280.24 204.3 280.6 204.49 280.98 C204.67 281.35 204.78 281.84 204.78 282.28 C204.78 282.71 204.67 283.2 204.49 283.58 C204.3 283.95 204 284.31 203.68 284.53 C203.36 284.75 202.77 284.82 202.58 284.88" stroke-width="1.32" />
<ellipse cx="231.5" cy="313.8" rx="5.6" ry="7.2" transform="rotate(-25 231.5 313.8)" stroke-width="1.32"/>
<line x1="230.8" y1="308.5" x2="233.5" y2="319" stroke-width="1.2"/>
<ellipse cx="246.3" cy="303.3" rx="6.4" ry="5.2" transform="rotate(20 246.3 303.3)" stroke-width="1.2"/>
<ellipse cx="246.8" cy="302.2" rx="5.2" ry="3.8" transform="rotate(20 246.8 302.2)" stroke-width="1.2"/>
<path d="M251.91 309.3 C251.75 309.49 251.31 310.09 250.93 310.41 C250.54 310.72 250.07 311 249.58 311.2 C249.09 311.4 248.53 311.54 247.98 311.6 C247.42 311.67 246.82 311.67 246.25 311.6 C245.67 311.53 245.07 311.39 244.52 311.19 C243.97 310.99 243.42 310.71 242.93 310.39 C242.45 310.08 241.99 309.69 241.6 309.28 C241.22 308.88 240.89 308.41 240.64 307.94 C240.39 307.47 240.21 306.97 240.11 306.47 C240.02 305.98 240.08 305.24 240.07 304.99" stroke-width="1.2" />
<ellipse cx="258.8" cy="335.8" rx="2.2" ry="2.2" transform="rotate(0 258.8 335.8)" stroke-width="1.56"/>
<path d="M256.2 334.2 L257.6 331.8 L260.4 332.2 L261.4 334.4" stroke-width="1.2"/>
<path d="M155 335 C157 332.73 158.58 333.5 161.25 334.5 C163.92 335.5 164.13 336.28 165 338.75 C165.87 341.22 166.17 341.75 164.5 343.75 C162.83 345.75 161.62 346.45 158.75 346.25 C155.88 346.05 154.75 346 153.75 343 C152.75 340 153 337.27 155 335 Z" stroke-width="1.2" fill="#fff" />
<path d="M153.75 338.75 L147.5 342.5 L148.75 346.25 L155.5 343.75 Z" stroke-width="1.2" fill="#fff"/>
<ellipse cx="155.5" cy="338" rx="2.2" ry="3.6" transform="rotate(-20 155.5 338)" stroke-width="1.2"/>
<path d="M219.04 302.21 L238.04 290.71" stroke-width="1.2"/>
<path d="M216.96 298.79 L235.96 287.29" stroke-width="1.2"/>
<path d="M219.04 302.21 C218.76 302.18 217.85 302.34 217.41 302.03 C216.96 301.71 216.44 300.86 216.37 300.32 C216.3 299.78 216.87 299.04 216.96 298.79" stroke-width="1.2" />
<path d="M238.04 290.71 C238.13 290.46 238.7 289.72 238.63 289.18 C238.56 288.64 238.04 287.79 237.59 287.47 C237.15 287.16 236.24 287.32 235.96 287.29" stroke-width="1.2" />
<line x1="219.12" y1="302.16" x2="218.25" y2="298.01" stroke-width="1.2" stroke="#4a4a4a"/>
<line x1="220.75" y1="301.18" x2="219.87" y2="297.03" stroke-width="1.2" stroke="#4a4a4a"/>
<line x1="222.37" y1="300.19" x2="221.5" y2="296.04" stroke-width="1.2" stroke="#4a4a4a"/>
<line x1="224" y1="299.21" x2="223.12" y2="295.06" stroke-width="1.2" stroke="#4a4a4a"/>
<line x1="228.53" y1="296.47" x2="227.65" y2="292.32" stroke-width="1.2" stroke="#4a4a4a"/>
<line x1="230.15" y1="295.48" x2="229.28" y2="291.34" stroke-width="1.2" stroke="#4a4a4a"/>
<line x1="231.78" y1="294.5" x2="230.9" y2="290.35" stroke-width="1.2" stroke="#4a4a4a"/>
<line x1="233.4" y1="293.51" x2="232.53" y2="289.37" stroke-width="1.2" stroke="#4a4a4a"/>
<line x1="235.03" y1="292.53" x2="234.15" y2="288.38" stroke-width="1.2" stroke="#4a4a4a"/>
<line x1="236.65" y1="291.55" x2="235.78" y2="287.4" stroke-width="1.2" stroke="#4a4a4a"/>
<line x1="226.84" y1="298.31" x2="224.04" y2="293.69" stroke-width="1.44"/>
<line x1="229.06" y1="296.96" x2="226.26" y2="292.34" stroke-width="1.44"/>
<path d="M196.57 401.31 L218.57 388.31" stroke-width="1.2"/>
<path d="M194.43 397.69 L216.43 384.69" stroke-width="1.2"/>
<path d="M196.57 401.31 C196.29 401.27 195.37 401.41 194.91 401.07 C194.46 400.72 193.93 399.82 193.85 399.26 C193.77 398.7 194.33 397.95 194.43 397.69" stroke-width="1.2" />
<path d="M218.57 388.31 C218.67 388.05 219.23 387.3 219.15 386.74 C219.07 386.18 218.54 385.28 218.09 384.93 C217.63 384.59 216.71 384.73 216.43 384.69" stroke-width="1.2" />
<line x1="196.65" y1="401.26" x2="195.72" y2="396.93" stroke-width="1.2" stroke="#4a4a4a"/>
<line x1="198.29" y1="400.29" x2="197.36" y2="395.96" stroke-width="1.2" stroke="#4a4a4a"/>
<line x1="199.93" y1="399.32" x2="198.99" y2="395" stroke-width="1.2" stroke="#4a4a4a"/>
<line x1="201.56" y1="398.36" x2="200.63" y2="394.03" stroke-width="1.2" stroke="#4a4a4a"/>
<line x1="203.2" y1="397.39" x2="202.27" y2="393.06" stroke-width="1.2" stroke="#4a4a4a"/>
<line x1="207.42" y1="394.9" x2="206.48" y2="390.57" stroke-width="1.2" stroke="#4a4a4a"/>
<line x1="209.05" y1="393.93" x2="208.12" y2="389.6" stroke-width="1.2" stroke="#4a4a4a"/>
<line x1="210.69" y1="392.97" x2="209.76" y2="388.64" stroke-width="1.2" stroke="#4a4a4a"/>
<line x1="212.32" y1="392" x2="211.39" y2="387.67" stroke-width="1.2" stroke="#4a4a4a"/>
<line x1="213.96" y1="391.03" x2="213.03" y2="386.7" stroke-width="1.2" stroke="#4a4a4a"/>
<line x1="215.59" y1="390.07" x2="214.66" y2="385.74" stroke-width="1.2" stroke="#4a4a4a"/>
<line x1="217.23" y1="389.1" x2="216.3" y2="384.77" stroke-width="1.2" stroke="#4a4a4a"/>
<line x1="205.71" y1="396.72" x2="202.86" y2="391.9" stroke-width="1.44"/>
<line x1="207.94" y1="395.4" x2="205.09" y2="390.58" stroke-width="1.44"/>
<ellipse cx="260.3" cy="428.4" rx="6.4" ry="4.1" transform="rotate(-12 260.3 428.4)" stroke-width="1.8"/>
<ellipse cx="260.3" cy="428.6" rx="3.3" ry="1.9" transform="rotate(-12 260.3 428.6)" stroke-width="1.44"/>
<path d="M261.36 439.85 L265.36 449.85" stroke-width="1.2"/>
<path d="M265.64 438.15 L269.64 448.15" stroke-width="1.2"/>
<path d="M261.36 439.85 C261.46 439.58 261.5 438.63 261.95 438.22 C262.4 437.81 263.47 437.38 264.08 437.37 C264.7 437.35 265.38 438.02 265.64 438.15" stroke-width="1.2" />
<path d="M265.36 449.85 C265.62 449.98 266.3 450.65 266.92 450.63 C267.53 450.62 268.6 450.19 269.05 449.78 C269.5 449.37 269.54 448.42 269.64 448.15" stroke-width="1.2" />
<line x1="261.4" y1="439.95" x2="266.19" y2="439.54" stroke-width="1.2" stroke="#4a4a4a"/>
<line x1="262.11" y1="441.71" x2="266.9" y2="441.3" stroke-width="1.2" stroke="#4a4a4a"/>
<line x1="262.81" y1="443.48" x2="267.6" y2="443.07" stroke-width="1.2" stroke="#4a4a4a"/>
<line x1="263.52" y1="445.24" x2="268.31" y2="444.83" stroke-width="1.2" stroke="#4a4a4a"/>
<line x1="264.22" y1="447" x2="269.02" y2="446.59" stroke-width="1.2" stroke="#4a4a4a"/>
<ellipse cx="267.5" cy="450.5" rx="4.6" ry="3.2" transform="rotate(-10 267.5 450.5)" stroke-width="1.56" fill="#fff"/>
<path d="M263 450.5 L263.5 455 L268 457 L272 454.5 L272 450.5" stroke-width="1.32"/>
<path d="M235.34 436.24 L243.84 458.74" stroke-width="1.2"/>
<path d="M239.26 434.76 L247.76 457.26" stroke-width="1.2"/>
<path d="M235.34 436.24 C235.42 435.98 235.44 435.04 235.86 434.65 C236.27 434.27 237.26 433.9 237.82 433.91 C238.39 433.93 239.02 434.62 239.26 434.76" stroke-width="1.2" />
<path d="M243.84 458.74 C244.08 458.88 244.71 459.57 245.28 459.59 C245.84 459.6 246.83 459.23 247.24 458.85 C247.66 458.46 247.68 457.52 247.76 457.26" stroke-width="1.2" />
<line x1="235.37" y1="436.34" x2="239.79" y2="436.16" stroke-width="1.2" stroke="#4a4a4a"/>
<line x1="236.04" y1="438.11" x2="240.47" y2="437.94" stroke-width="1.2" stroke="#4a4a4a"/>
<line x1="236.71" y1="439.89" x2="241.14" y2="439.72" stroke-width="1.2" stroke="#4a4a4a"/>
<line x1="237.39" y1="441.67" x2="241.81" y2="441.49" stroke-width="1.2" stroke="#4a4a4a"/>
<line x1="239.29" y1="446.72" x2="243.72" y2="446.55" stroke-width="1.2" stroke="#4a4a4a"/>
<line x1="239.97" y1="448.5" x2="244.39" y2="448.32" stroke-width="1.2" stroke="#4a4a4a"/>
<line x1="240.64" y1="450.28" x2="245.06" y2="450.1" stroke-width="1.2" stroke="#4a4a4a"/>
<line x1="241.31" y1="452.05" x2="245.73" y2="451.88" stroke-width="1.2" stroke="#4a4a4a"/>
<line x1="241.98" y1="453.83" x2="246.4" y2="453.66" stroke-width="1.2" stroke="#4a4a4a"/>
<line x1="242.65" y1="455.61" x2="247.08" y2="455.43" stroke-width="1.2" stroke="#4a4a4a"/>
<line x1="243.32" y1="457.39" x2="247.75" y2="457.21" stroke-width="1.2" stroke="#4a4a4a"/>
<line x1="237.79" y1="444.72" x2="243.03" y2="442.74" stroke-width="1.44"/>
<line x1="238.71" y1="447.16" x2="243.95" y2="445.18" stroke-width="1.44"/>
<ellipse cx="248.9" cy="466.9" rx="6.4" ry="4.1" transform="rotate(-12 248.9 466.9)" stroke-width="1.8"/>
<ellipse cx="248.9" cy="467.1" rx="3.3" ry="1.9" transform="rotate(-12 248.9 467.1)" stroke-width="1.44"/>
<path d="M250 481 L250.5 486.5 L255 489.5 L260.3 487 L260.8 481.5" stroke-width="1.32"/>
<path d="M252.75 483.35 L250.1 480.5 L252.75 477.65 L258.05 477.65 L260.7 480.5 L258.05 483.35 Z" stroke-width="1.32" fill="#fff"/>
<line x1="255" y1="483.3" x2="255" y2="489.5" stroke-width="1.2"/>
<ellipse cx="255.4" cy="480.4" rx="2.4" ry="1.5" transform="rotate(0 255.4 480.4)" stroke-width="1.44"/>
<ellipse cx="299.6" cy="464.5" rx="8.3" ry="3" transform="rotate(0 299.6 464.5)" stroke-width="1.56" fill="#fff"/>
<ellipse cx="299.6" cy="467.6" rx="8.3" ry="3" transform="rotate(0 299.6 467.6)" stroke-width="1.56"/>
<ellipse cx="299.6" cy="470.7" rx="8.3" ry="3" transform="rotate(0 299.6 470.7)" stroke-width="1.56"/>
<ellipse cx="299.6" cy="473.8" rx="8.3" ry="3" transform="rotate(0 299.6 473.8)" stroke-width="1.56"/>
<ellipse cx="299.6" cy="476.9" rx="8.3" ry="3" transform="rotate(0 299.6 476.9)" stroke-width="1.56"/>
<ellipse cx="299.6" cy="480" rx="8.3" ry="3" transform="rotate(0 299.6 480)" stroke-width="1.56"/>
<line x1="291.3" y1="464.5" x2="291.3" y2="480" stroke-width="1.2"/>
<line x1="307.9" y1="464.5" x2="307.9" y2="480" stroke-width="1.2"/>
<ellipse cx="409.5" cy="281" rx="5" ry="6.6" transform="rotate(-25 409.5 281)" stroke-width="1.2"/>
<ellipse cx="406.5" cy="282.2" rx="5.2" ry="6.8" transform="rotate(-25 406.5 282.2)" stroke-width="1.2"/>
<path d="M396.6 278.6 L407 274.7" stroke-width="1.2"/>
<path d="M402.4 291.6 L412.2 287.2" stroke-width="1.2"/>
<ellipse cx="399.5" cy="285" rx="5.6" ry="7.2" transform="rotate(-25 399.5 285)" stroke-width="1.32" fill="#fff"/>
<path d="M392.2 351.98 L394 348.89 L440.27 313.42 L539.24 287.71 L544.38 288.74 L544.9 291.31 L542.33 293.88 L495.54 327.81 L400.94 354.81 L394 355.06 Z" stroke-width="1.32"/>
<path d="M411.99 342.98 L442.84 318.56 L527.67 296.71 L494.25 322.42 Z" stroke-width="1.32"/>
<circle cx="397.34" cy="351.21" r="1.7" stroke-width="1.2"/>
<circle cx="422.28" cy="331.41" r="1.7" stroke-width="1.2"/>
<circle cx="442.84" cy="315.48" r="1.7" stroke-width="1.2"/>
<circle cx="478.83" cy="305.71" r="1.7" stroke-width="1.2"/>
<circle cx="509.68" cy="297.48" r="1.7" stroke-width="1.2"/>
<circle cx="539.24" cy="290.28" r="1.7" stroke-width="1.2"/>
<circle cx="516.62" cy="307.76" r="1.7" stroke-width="1.2"/>
<circle cx="494.25" cy="324.99" r="1.7" stroke-width="1.2"/>
<circle cx="460.32" cy="333.98" r="1.7" stroke-width="1.2"/>
<circle cx="429.22" cy="342.47" r="1.7" stroke-width="1.2"/>
<path d="M218.34 420.69 L219.63 418.12 L267.7 384.7 L368.73 357.71 L373.87 358.74 L374.9 361.31 L372.84 364.4 L324.25 400.13 L228.37 426.09 L221.17 426.09 Z" stroke-width="1.32"/>
<path d="M240.71 411.7 L270.27 389.85 L355.1 366.71 L322.97 392.42 Z" stroke-width="1.32"/>
<path d="M246.36 410.93 L272.07 392.42 L348.16 371.08" stroke-width="1.08"/>
<circle cx="224" cy="421.47" r="1.7" stroke-width="1.2"/>
<circle cx="249.7" cy="401.41" r="1.7" stroke-width="1.2"/>
<circle cx="279.27" cy="382.9" r="1.7" stroke-width="1.2"/>
<circle cx="306.26" cy="375.71" r="1.7" stroke-width="1.2"/>
<circle cx="337.88" cy="367.48" r="1.7" stroke-width="1.2"/>
<circle cx="368.73" cy="360.28" r="1.7" stroke-width="1.2"/>
<circle cx="349.45" cy="373.65" r="1.7" stroke-width="1.2"/>
<circle cx="321.17" cy="394.22" r="1.7" stroke-width="1.2"/>
<circle cx="294.69" cy="402.19" r="1.7" stroke-width="1.2"/>
<circle cx="256.13" cy="412.98" r="1.7" stroke-width="1.2"/>
<path d="M258.3 417.54 C258.36 417.7 258.66 418.17 258.7 418.5 C258.73 418.84 258.66 419.23 258.51 419.56 C258.37 419.89 258.1 420.23 257.8 420.47 C257.49 420.71 257.09 420.92 256.7 421.02 C256.31 421.12 255.86 421.15 255.48 421.09 C255.09 421.03 254.69 420.87 254.4 420.66 C254.11 420.46 253.85 420.15 253.72 419.84 C253.58 419.53 253.6 418.97 253.58 418.8" stroke-width="1.2" />
<path d="M296.86 406.74 C296.92 406.9 297.22 407.37 297.26 407.71 C297.29 408.05 297.23 408.44 297.08 408.77 C296.93 409.09 296.66 409.43 296.36 409.67 C296.05 409.91 295.65 410.12 295.26 410.22 C294.87 410.33 294.42 410.35 294.04 410.29 C293.65 410.23 293.25 410.08 292.96 409.87 C292.67 409.66 292.41 409.35 292.28 409.04 C292.14 408.73 292.16 408.18 292.14 408" stroke-width="1.2" />
<path d="M323.85 399.28 C323.92 399.45 324.21 399.92 324.25 400.25 C324.28 400.59 324.22 400.98 324.07 401.31 C323.92 401.64 323.65 401.97 323.35 402.22 C323.05 402.46 322.64 402.66 322.25 402.77 C321.87 402.87 321.41 402.9 321.03 402.84 C320.65 402.78 320.25 402.62 319.95 402.41 C319.66 402.2 319.41 401.9 319.27 401.59 C319.13 401.28 319.15 400.72 319.13 400.55" stroke-width="1.2" />
<path d="M460.31 449.77 C461.74 450.7 465.72 452.2 467.42 454.44 C469.13 456.67 468.03 458.01 468.85 460.94 C469.66 463.86 469.94 462.97 471.49 469.06 C473.03 475.16 474.74 485.8 476.56 491.41 C478.39 497.01 479.73 495.15 480.63 497.1 C481.52 499.05 481.64 499.78 481.03 501.16 C480.42 502.54 479.08 503.03 477.58 504 C476.08 504.98 474.94 503.19 473.52 506.03 C472.1 508.88 473.11 514 470.47 518.22 C467.83 522.45 465.6 524.56 460.31 527.16 C455.03 529.76 450.56 531.06 444.06 531.22 C437.56 531.38 433.5 529.84 427.81 527.97 C422.13 526.1 420.5 525.53 415.63 521.88 C410.75 518.22 407.83 516.6 403.44 509.69 C399.05 502.78 395.8 495.47 393.69 487.35 C391.58 479.22 391.74 475.77 392.88 469.06 C394.01 462.36 397.75 457.89 399.38 453.83 C401 449.77 400.68 449.77 401 448.75" stroke-width="1.32" />
<path d="M401 448.75 L403.03 430.88 L460.31 449.77" stroke-width="1.32"/>
<ellipse cx="434.9" cy="486.9" rx="41" ry="32" transform="rotate(60 434.9 486.9)" stroke-width="1.32"/>
<circle cx="416.6" cy="443.7" r="2.7" stroke-width="1.2"/>
<circle cx="438.99" cy="447.13" r="1.8" stroke-width="1.2"/>
<circle cx="466" cy="456.47" r="1.8" stroke-width="1.2"/>
<circle cx="478.6" cy="499.53" r="1.8" stroke-width="1.2"/>
<circle cx="459.3" cy="521.88" r="1.8" stroke-width="1.2"/>
<circle cx="431.88" cy="523.91" r="1.8" stroke-width="1.2"/>
<circle cx="407.5" cy="506.64" r="1.8" stroke-width="1.2"/>
<circle cx="402.02" cy="497.5" r="1.8" stroke-width="1.2"/>
<circle cx="397.75" cy="469.47" r="1.8" stroke-width="1.2"/>
<circle cx="403.84" cy="452.41" r="1.8" stroke-width="1.2"/>
<ellipse cx="437.2" cy="189.5" rx="39.5" ry="31" transform="rotate(52 437.2 189.5)" stroke-width="1.2" fill="#fff"/>
<ellipse cx="434.6" cy="188.6" rx="39.5" ry="31" transform="rotate(52 434.6 188.6)" stroke-width="1.32" fill="#fff"/>
<ellipse cx="433.8" cy="189.6" rx="25.5" ry="19.8" transform="rotate(52 433.8 189.6)" stroke-width="1.32"/>
<ellipse cx="409.8" cy="168.2" rx="1.7" ry="2.2" transform="rotate(-20 409.8 168.2)" stroke-width="1.2"/>
<ellipse cx="419.2" cy="163.5" rx="1.7" ry="2.2" transform="rotate(-20 419.2 163.5)" stroke-width="1.2"/>
<ellipse cx="447.3" cy="172.9" rx="1.7" ry="2.2" transform="rotate(-20 447.3 172.9)" stroke-width="1.2"/>
<ellipse cx="454.8" cy="182.3" rx="1.7" ry="2.2" transform="rotate(-20 454.8 182.3)" stroke-width="1.2"/>
<ellipse cx="460.5" cy="201" rx="1.7" ry="2.2" transform="rotate(-20 460.5 201)" stroke-width="1.2"/>
<ellipse cx="449.2" cy="217" rx="1.7" ry="2.2" transform="rotate(-20 449.2 217)" stroke-width="1.2"/>
<ellipse cx="406.2" cy="217.6" rx="39.5" ry="31" transform="rotate(52 406.2 217.6)" stroke-width="1.2" fill="#fff"/>
<ellipse cx="403.4" cy="216.4" rx="39.5" ry="31" transform="rotate(52 403.4 216.4)" stroke-width="1.32" fill="#fff"/>
<ellipse cx="404.6" cy="216.8" rx="26" ry="19.6" transform="rotate(52 404.6 216.8)" stroke-width="1.32"/>
<ellipse cx="405.6" cy="217.4" rx="24" ry="17.8" transform="rotate(52 405.6 217.4)" stroke-width="1.08"/>
<line x1="414.69" y1="238.92" x2="414.64" y2="236.32" stroke-width="0.72"/>
<line x1="413.26" y1="239.15" x2="413.44" y2="236.49" stroke-width="0.72"/>
<line x1="411.79" y1="239.25" x2="412.2" y2="236.55" stroke-width="0.72"/>
<line x1="410.28" y1="239.23" x2="410.93" y2="236.5" stroke-width="0.72"/>
<line x1="408.75" y1="239.07" x2="409.63" y2="236.35" stroke-width="0.72"/>
<line x1="407.19" y1="238.79" x2="408.31" y2="236.08" stroke-width="0.72"/>
<line x1="405.63" y1="238.38" x2="406.99" y2="235.7" stroke-width="0.72"/>
<line x1="404.07" y1="237.85" x2="405.66" y2="235.22" stroke-width="0.72"/>
<line x1="402.51" y1="237.19" x2="404.33" y2="234.64" stroke-width="0.72"/>
<line x1="400.98" y1="236.42" x2="403.02" y2="233.95" stroke-width="0.72"/>
<line x1="399.47" y1="235.54" x2="401.73" y2="233.17" stroke-width="0.72"/>
<line x1="398" y1="234.55" x2="400.47" y2="232.31" stroke-width="0.72"/>
<line x1="396.57" y1="233.46" x2="399.25" y2="231.35" stroke-width="0.72"/>
<line x1="395.2" y1="232.28" x2="398.06" y2="230.32" stroke-width="0.72"/>
<line x1="393.88" y1="231" x2="396.93" y2="229.21" stroke-width="0.72"/>
<line x1="392.64" y1="229.65" x2="395.86" y2="228.03" stroke-width="0.72"/>
<line x1="391.47" y1="228.23" x2="394.85" y2="226.8" stroke-width="0.72"/>
<line x1="390.39" y1="226.74" x2="393.91" y2="225.51" stroke-width="0.72"/>
<line x1="389.39" y1="225.19" x2="393.04" y2="224.17" stroke-width="0.72"/>
<line x1="388.49" y1="223.6" x2="392.25" y2="222.8" stroke-width="0.72"/>
<line x1="387.69" y1="221.98" x2="391.55" y2="221.4" stroke-width="0.72"/>
<line x1="387" y1="220.32" x2="390.94" y2="219.98" stroke-width="0.72"/>
<line x1="386.42" y1="218.65" x2="390.42" y2="218.54" stroke-width="0.72"/>
<line x1="385.95" y1="216.98" x2="389.99" y2="217.1" stroke-width="0.72"/>
<line x1="385.59" y1="215.3" x2="389.66" y2="215.67" stroke-width="0.72"/>
<line x1="385.36" y1="213.64" x2="389.43" y2="214.24" stroke-width="0.72"/>
<line x1="385.24" y1="212" x2="389.31" y2="212.84" stroke-width="0.72"/>
<line x1="385.24" y1="210.39" x2="389.28" y2="211.47" stroke-width="0.72"/>
<line x1="385.37" y1="208.82" x2="389.36" y2="210.13" stroke-width="0.72"/>
<line x1="385.61" y1="207.3" x2="389.54" y2="208.84" stroke-width="0.72"/>
<line x1="385.97" y1="205.85" x2="389.82" y2="207.61" stroke-width="0.72"/>
<line x1="386.44" y1="204.46" x2="390.2" y2="206.43" stroke-width="0.72"/>
<line x1="387.03" y1="203.14" x2="390.67" y2="205.32" stroke-width="0.72"/>
<line x1="387.73" y1="201.91" x2="391.24" y2="204.28" stroke-width="0.72"/>
<line x1="388.53" y1="200.78" x2="391.9" y2="203.32" stroke-width="0.72"/>
<line x1="389.44" y1="199.74" x2="392.65" y2="202.45" stroke-width="0.72"/>
<line x1="390.44" y1="198.8" x2="393.47" y2="201.67" stroke-width="0.72"/>
<line x1="391.53" y1="197.97" x2="394.38" y2="200.98" stroke-width="0.72"/>
<line x1="392.7" y1="197.26" x2="395.36" y2="200.4" stroke-width="0.72"/>
<line x1="393.95" y1="196.67" x2="396.4" y2="199.91" stroke-width="0.72"/>
<line x1="395.26" y1="196.2" x2="397.5" y2="199.53" stroke-width="0.72"/>
<line x1="396.64" y1="195.85" x2="398.66" y2="199.26" stroke-width="0.72"/>
<line x1="398.07" y1="195.64" x2="399.87" y2="199.1" stroke-width="0.72"/>
<line x1="399.54" y1="195.54" x2="401.11" y2="199.05" stroke-width="0.72"/>
<line x1="401.06" y1="195.58" x2="402.39" y2="199.11" stroke-width="0.72"/>
<line x1="402.59" y1="195.75" x2="403.69" y2="199.27" stroke-width="0.72"/>
<path d="M417.29 235.55 C416.91 235.67 415.8 236.12 415 236.28 C414.2 236.45 413.36 236.54 412.5 236.55 C411.65 236.57 410.75 236.5 409.86 236.35 C408.96 236.2 408.04 235.98 407.13 235.68 C406.23 235.38 405.3 235 404.4 234.55 C403.5 234.11 402.6 233.59 401.73 233.01 C400.86 232.43 400.01 231.78 399.19 231.08 C398.38 230.38 397.59 229.61 396.85 228.81 C396.11 228.01 395.4 227.15 394.75 226.27 C394.11 225.39 393.5 224.46 392.97 223.52 C392.43 222.58 391.95 221.6 391.54 220.63 C391.12 219.65 390.77 218.65 390.5 217.67 C390.22 216.68 390.01 215.69 389.87 214.72 C389.73 213.75 389.67 212.78 389.68 211.85 C389.69 210.92 389.77 210 389.92 209.14 C390.08 208.27 390.3 207.43 390.6 206.65 C390.89 205.88 391.26 205.13 391.69 204.46 C392.11 203.79 392.61 203.16 393.16 202.61 C393.71 202.06 394.33 201.57 394.99 201.16 C395.65 200.74 396.36 200.4 397.11 200.13 C397.86 199.87 398.66 199.67 399.49 199.56 C400.31 199.45 401.17 199.42 402.05 199.46 C402.92 199.51 403.82 199.64 404.73 199.84 C405.63 200.04 407.01 200.54 407.46 200.68" stroke-width="1.08" />
<ellipse cx="380.7" cy="195.4" rx="1.7" ry="2.2" transform="rotate(-20 380.7 195.4)" stroke-width="1.2"/>
<ellipse cx="390" cy="190.7" rx="1.7" ry="2.2" transform="rotate(-20 390 190.7)" stroke-width="1.2"/>
<ellipse cx="419.2" cy="200.1" rx="1.7" ry="2.2" transform="rotate(-20 419.2 200.1)" stroke-width="1.2"/>
<ellipse cx="425.7" cy="209.5" rx="1.7" ry="2.2" transform="rotate(-20 425.7 209.5)" stroke-width="1.2"/>
<ellipse cx="432.3" cy="228.3" rx="1.7" ry="2.2" transform="rotate(-20 432.3 228.3)" stroke-width="1.2"/>
<ellipse cx="420.1" cy="244.2" rx="1.7" ry="2.2" transform="rotate(-20 420.1 244.2)" stroke-width="1.2"/>
<ellipse cx="390" cy="234.8" rx="1.7" ry="2.2" transform="rotate(-20 390 234.8)" stroke-width="1.2"/>
<ellipse cx="376.9" cy="217" rx="1.7" ry="2.2" transform="rotate(-20 376.9 217)" stroke-width="1.2"/>
<path d="M458.49 103.95 C459.67 105.52 461.02 106.3 462.9 109.82 C464.78 113.35 464.53 111.88 465.54 117.17 C466.56 122.45 466.87 123.38 466.72 129.65 C466.56 135.91 466.29 135.57 464.96 140.66 C463.62 145.75 463.45 146.04 461.73 148.74 C460 151.44 459.36 150.24 458.49 150.79" stroke-width="1.08" />
<path d="M449.68 102.92 C447.73 103.9 447.04 103.33 445.28 106.15 C443.52 108.97 443.55 108.8 443.08 113.49 C442.61 118.19 442.73 117.9 443.52 123.77 C444.3 129.65 444.56 129.65 446.01 135.52 C447.46 141.4 447.19 141.88 448.95 145.8 C450.71 149.72 450.47 148.84 452.62 150.21 C454.77 151.58 454.87 151.53 457.03 150.94 C459.18 150.35 458.94 150.94 460.7 148 C462.46 145.07 462.46 144.82 463.63 139.93 C464.81 135.03 464.91 135.13 465.1 129.65 C465.3 124.17 465.35 124.85 464.37 119.37 C463.39 113.89 463.39 113.2 461.43 109.09 C459.47 104.98 459.38 105.71 457.03 103.95 C454.68 102.19 454.58 102.76 452.62 102.48 C450.66 102.21 451.64 101.94 449.68 102.92 Z" stroke-width="1.32" fill="#fff" />
<path d="M449.68 109.82 C448.2 111.39 448.71 110.85 448.51 114.96 C448.31 119.07 448.25 121.4 448.95 125.24 C449.65 129.08 449.39 127.98 451.15 129.35 C452.91 130.72 453.6 130.77 455.56 130.38 C457.52 129.99 457.52 130.82 458.49 127.89 C459.47 124.95 459.42 123.6 459.23 119.37 C459.03 115.14 459.13 114.77 457.76 112.03 C456.39 109.29 456.24 109.68 454.09 109.09 C451.94 108.5 451.17 108.26 449.68 109.82 Z" stroke-width="1.92" />
<ellipse cx="453.8" cy="144" rx="2" ry="2.5" transform="rotate(-20 453.8 144)" stroke-width="1.32"/>
<ellipse cx="486.3" cy="126.8" rx="3.7" ry="4.5" transform="rotate(-25 486.3 126.8)" stroke-width="2.28"/>
<path d="M504.08 109.35 L492.25 118.29" stroke-width="1.2"/>
<path d="M507.57 113.98 L495.75 122.91" stroke-width="1.2"/>
<path d="M492.25 118.29 C492.22 118.61 491.82 119.52 492.09 120.23 C492.35 120.94 493.23 122.09 493.84 122.54 C494.45 122.99 495.43 122.85 495.75 122.91" stroke-width="1.2" />
<line x1="502.27" y1="110.72" x2="504.65" y2="116.19" stroke-width="1.2" stroke="#4a4a4a"/>
<line x1="500.75" y1="111.86" x2="503.13" y2="117.33" stroke-width="1.2" stroke="#4a4a4a"/>
<line x1="499.24" y1="113.01" x2="501.62" y2="118.48" stroke-width="1.2" stroke="#4a4a4a"/>
<line x1="497.72" y1="114.15" x2="500.1" y2="119.62" stroke-width="1.2" stroke="#4a4a4a"/>
<line x1="496.21" y1="115.3" x2="498.59" y2="120.77" stroke-width="1.2" stroke="#4a4a4a"/>
<line x1="494.69" y1="116.44" x2="497.07" y2="121.92" stroke-width="1.2" stroke="#4a4a4a"/>
<path d="M501.88 111.26 L502.57 107.36 L505.92 104.83 L509.86 105.23 L513.12 109.54 L512.43 113.44 L509.08 115.97 L505.14 115.57 Z" stroke-width="1.32" fill="#fff"/>
<path d="M505.23 108.73 L505.92 104.83 L509.86 105.23 L513.12 109.54 L512.43 113.44 L508.49 113.04 Z" stroke-width="1.2" fill="#fff"/>
<path d="M505.23 108.73 L501.88 111.26" stroke-width="1.08"/>
<path d="M508.49 113.04 L505.14 115.57" stroke-width="1.08"/>
<ellipse cx="509.18" cy="109.13" rx="1.51" ry="2.43" transform="rotate(142.93 509.18 109.13)" stroke-width="0.96"/>
<path d="M412.13 116.08 L405.65 120.14" stroke-width="1.2"/>
<path d="M413.83 118.79 L407.35 122.86" stroke-width="1.2"/>
<path d="M405.65 120.14 C405.54 120.37 404.94 121.06 404.97 121.51 C405 121.97 405.43 122.64 405.82 122.87 C406.22 123.09 407.1 122.86 407.35 122.86" stroke-width="1.2" />
<line x1="411.43" y1="116.52" x2="411.94" y2="119.98" stroke-width="1.2" stroke="#4a4a4a"/>
<line x1="409.82" y1="117.53" x2="410.33" y2="120.99" stroke-width="1.2" stroke="#4a4a4a"/>
<line x1="408.21" y1="118.54" x2="408.72" y2="122" stroke-width="1.2" stroke="#4a4a4a"/>
<path d="M410.68 116.99 L411.28 114.73 L413.32 113.45 L415.62 113.89 L417.32 116.61 L416.72 118.87 L414.68 120.15 L412.38 119.71 Z" stroke-width="1.32" fill="#fff"/>
<path d="M412.71 115.72 L413.32 113.45 L415.62 113.89 L417.32 116.61 L416.72 118.87 L414.41 118.43 Z" stroke-width="1.2" fill="#fff"/>
<path d="M412.71 115.72 L410.68 116.99" stroke-width="1.08"/>
<path d="M414.41 118.43 L412.38 119.71" stroke-width="1.08"/>
<ellipse cx="415.02" cy="116.16" rx="0.9" ry="1.44" transform="rotate(147.93 415.02 116.16)" stroke-width="0.96"/>
<path d="M493 170 L501.1 170 Q504.5 171.5 507 174.4 Q510.5 178.5 511.4 184 L508.4 185.4 Q507.5 181 505.5 178.1 Q504 176.3 501.6 176.4 L498.9 203.8 Q498 207.5 493.7 207.5 Q489.5 207.3 489.3 204.5 L491.5 172.2 Q491.8 170.2 493 170 Z" stroke-width="1.32" fill="#fff" />
<path d="M494.6 171.5 L492.6 203.5 M501.1 170 L501.6 176.4" stroke-width="1.08" />
<ellipse cx="494.6" cy="199.4" rx="1.5" ry="1.9" transform="rotate(0 494.6 199.4)" stroke-width="1.2"/>
<path d="M366.5 578.2 C366.87 579.13 366.78 580.02 367.9 581.7 C369.02 583.38 367.71 582.61 370.7 584.5 C373.69 586.39 374.99 586.35 379.1 588.8 C383.21 591.25 383.67 591.09 386.1 593.7 C388.53 596.31 388.01 595.99 388.2 598.6 C388.39 601.21 385.87 598.83 386.8 603.5 C387.73 608.17 388.9 609.01 391.7 616.1 C394.5 623.19 394.69 621.11 397.3 630.1 C399.91 639.09 399.5 640.76 401.5 649.8 C403.5 658.84 403.55 658.35 404.8 664 C406.05 669.65 406.73 667.8 406.2 671 C405.67 674.2 404.99 673.87 402.8 676 C400.61 678.13 400.75 677.8 398 679 C395.25 680.2 394.31 677.57 392.5 680.5 C390.69 683.43 391.55 687.47 391.2 690" stroke-width="1.32" />
<path d="M381.9 603.5 C383.02 606.86 383.3 608.26 386.1 616.1 C388.9 623.94 389.79 623.91 392.4 632.9 C395.01 641.89 394.27 641.51 395.9 649.8 C397.53 658.09 397.81 660.21 398.5 664" stroke-width="1.2" />
<ellipse cx="374.9" cy="601.8" rx="3.2" ry="2.8" transform="rotate(-30 374.9 601.8)" stroke-width="1.2"/>
<ellipse cx="392.7" cy="673" rx="2.3" ry="2.8" transform="rotate(-20 392.7 673)" stroke-width="1.2"/>
<path d="M380.47 660.94 L386.56 658.91 L394.69 668.05 L390.63 670.08 L391.03 689.38" stroke-width="1.2"/>
<path d="M380.47 660.94 L380.88 671.09 L386.16 673.53 L386.56 692.42" stroke-width="1.2"/>
<path d="M383.52 673.53 L384.13 693.44" stroke-width="1.2"/>
<path d="M386.56 620.31 L384.13 659.92" stroke-width="1.2"/>
<path d="M367.06 606.09 L386.56 620.31" stroke-width="1.2"/>
<path d="M242.8 562.3 L287 532 Q289.8 529.8 293 531.5 L365 577.5 L369.5 583.5" stroke-width="1.32" />
<path d="M242.8 562.3 L289.8 590.4 L303.9 580.1 L334 600.5 L369.5 583.5" stroke-width="1.32"/>
<path d="M244.2 565.8 L289.9 593.6" stroke-width="1.08"/>
<path d="M292.61 589.86 L305.38 582.35 L334.3 597.37" stroke-width="1.2"/>
<path d="M294.86 591.36 L305.75 585.35 L330.16 598.5" stroke-width="1.2"/>
<path d="M265.38 558.5 L289.79 544.41 L317.02 556.62 L290.73 573.9 Z" stroke-width="1.32"/>
<path d="M271.95 561.69 L290.73 550.99 L310.45 559.81" stroke-width="1.2"/>
<path d="M290.73 550.99 L289.79 570.7" stroke-width="1.2"/>
<path d="M279.46 566.01 L289.79 570.7 L303.87 563.57" stroke-width="1.2"/>
<ellipse cx="258.8" cy="555.68" rx="2.7" ry="1.9" transform="rotate(-10 258.8 555.68)" stroke-width="1.2"/>
<ellipse cx="285.09" cy="539.72" rx="2.7" ry="1.9" transform="rotate(-10 285.09 539.72)" stroke-width="1.2"/>
<ellipse cx="322.65" cy="559.44" rx="2.7" ry="1.9" transform="rotate(-10 322.65 559.44)" stroke-width="1.2"/>
<ellipse cx="338.62" cy="569.77" rx="2.7" ry="1.9" transform="rotate(-10 338.62 569.77)" stroke-width="1.2"/>
<ellipse cx="337.68" cy="590.42" rx="2.7" ry="1.9" transform="rotate(-10 337.68 590.42)" stroke-width="1.2"/>
<ellipse cx="296.36" cy="575.96" rx="2.7" ry="1.9" transform="rotate(-10 296.36 575.96)" stroke-width="1.2"/>
<path d="M242.8 562.3 L243.8 568.8 Q244.5 573 248.5 574.5 L248.5 595 Q249.5 603 256.9 608.3" stroke-width="1.32" />
<path d="M334 600.5 L331.5 603 L323 640.5" stroke-width="1.32"/>
<path d="M331.5 603 L328 604.5 L320.5 638" stroke-width="1.2"/>
<ellipse cx="331.2" cy="613" rx="1.6" ry="2.6" transform="rotate(10 331.2 613)" stroke-width="1.32"/>
<path d="M289.8 590.4 L292 596" stroke-width="1.2"/>
<path d="M300.12 608.26 L299.18 632.68 L322.65 642.07 L327.35 637.37" stroke-width="1.2"/>
<path d="M322.65 642.07 L324.15 625.16" stroke-width="1.2"/>
<path d="M296.36 629.86 L297.3 610.14" stroke-width="1.2"/>
<path d="M331.25 602.5 L365 583.75" stroke-width="1.2"/>
<path d="M322.5 640 L330 642.5 L363.75 610 L386.25 620" stroke-width="1.2"/>
<path d="M327.5 636.25 L362.5 606.25 L387.5 617" stroke-width="1.2"/>
<ellipse cx="348.9" cy="628" rx="2.8" ry="2" transform="rotate(-10 348.9 628)" stroke-width="1.2"/>
<ellipse cx="353.1" cy="638.5" rx="2.8" ry="2" transform="rotate(-10 353.1 638.5)" stroke-width="1.2"/>
<ellipse cx="361.6" cy="578.2" rx="2.8" ry="1.9" transform="rotate(-10 361.6 578.2)" stroke-width="1.2"/>
<path d="M330 642.5 L343.75 649.5" stroke-width="1.2"/>
<path d="M327.5 646.25 L342.5 653" stroke-width="1.2"/>
<path d="M217.5 665 L233.5 628 L265.4 606.4 L287 613.9" stroke-width="1.32"/>
<path d="M233.5 628 L242 635.5 L262 623" stroke-width="1.2"/>
<path d="M229.69 655.59 C230.16 653.8 230.95 647.82 232.51 644.88 C234.08 641.94 236.58 639.41 239.08 637.93 C241.59 636.46 244.72 636.06 247.54 636.06 C250.35 636.06 254.58 637.62 255.99 637.93" stroke-width="1.2" />
<path d="M235.33 645.45 C236.74 645.04 240.81 643.57 243.78 643 C246.75 642.44 251.6 642.22 253.17 642.07" stroke-width="1.2" />
<ellipse cx="293.2" cy="602.6" rx="5.2" ry="4.6" transform="rotate(0 293.2 602.6)" stroke-width="1.32"/>
<ellipse cx="292.5" cy="603" rx="2.8" ry="2.5" transform="rotate(0 292.5 603)" stroke-width="1.2"/>
<path d="M288.85 609.2 L239.08 658.59" stroke-width="1.32"/>
<path d="M297.86 609.77 L243.78 662.35" stroke-width="1.32"/>
<path d="M286.97 613.9 L247.54 649.58" stroke-width="1.08"/>
<path d="M217.5 665 L240 659 M217.5 665 C212 671 208.5 678 207.8 688 C207 700 209 708 214 714 C220 721 232 726 247.4 726 L288.5 739.7 L293.5 739.7" stroke-width="1.32" />
<ellipse cx="235" cy="699.3" rx="26" ry="22.6" transform="rotate(72 235 699.3)" stroke-width="1.32"/>
<path d="M226.04 674.04 C226.47 674 227.79 673.83 228.67 673.81 C229.55 673.79 230.45 673.83 231.34 673.93 C232.22 674.02 233.12 674.18 234 674.39 C234.88 674.6 235.76 674.87 236.62 675.19 C237.48 675.51 238.33 675.89 239.16 676.32 C239.99 676.75 240.81 677.23 241.6 677.76 C242.38 678.29 243.15 678.88 243.89 679.5 C244.62 680.13 245.33 680.8 246.01 681.51 C246.68 682.22 247.32 682.98 247.92 683.76 C248.52 684.55 249.08 685.37 249.6 686.23 C250.12 687.08 250.61 687.96 251.04 688.87 C251.47 689.78 251.86 690.71 252.2 691.66 C252.54 692.6 252.83 693.58 253.08 694.55 C253.32 695.53 253.51 696.52 253.65 697.51 C253.8 698.5 253.89 699.51 253.92 700.5 C253.96 701.49 253.95 702.49 253.89 703.47 C253.82 704.46 253.7 705.44 253.54 706.39 C253.37 707.35 253.15 708.3 252.88 709.22 C252.62 710.14 252.3 711.05 251.93 711.92 C251.57 712.79 251.16 713.63 250.7 714.44 C250.25 715.25 249.74 716.03 249.2 716.77 C248.66 717.51 248.08 718.21 247.46 718.86 C246.84 719.51 246.18 720.13 245.49 720.69 C244.8 721.25 243.69 721.98 243.33 722.24" stroke-width="1.2" />
<path d="M240 661.5 L297.3 631.2 L320.8 642" stroke-width="1.32"/>
<path d="M243 664 L298 635" stroke-width="1.08"/>
<path d="M240 661.5 L291.25 692.5 L352 653" stroke-width="1.32"/>
<path d="M293.8 692 L293.8 738.5" stroke-width="1.32"/>
<path d="M247.4 726 L250 722 L290 735" stroke-width="1.08"/>
<ellipse cx="271" cy="708.5" rx="8.2" ry="8.8" transform="rotate(-20 271 708.5)" stroke-width="1.32"/>
<ellipse cx="270.2" cy="708.8" rx="5.2" ry="5.8" transform="rotate(-20 270.2 708.8)" stroke-width="1.44"/>
<ellipse cx="269.8" cy="709" rx="3.2" ry="3.8" transform="rotate(-20 269.8 709)" stroke-width="1.2"/>
<path d="M268.54 696.82 C270.86 696.16 273.07 693.67 277.26 694.33 C281.45 694.99 281.91 695.86 284.24 699.31 C286.56 702.77 287.04 703.17 285.98 707.29 C284.92 711.41 281.78 712.77 280.25 714.77" stroke-width="1.2" />
<path d="M294.14 692.42 L332.13 668.66 L333.75 666.63 L337 667.03 L338.22 665.41 L370.31 641.64 L373.16 641.44 L374.38 645.09 L373.77 689.38 L372.35 694.45 L368.69 698.31 L365.85 699.53 L343.5 708.47 L341.88 710.7 L340.45 730 L339.44 734.47 L335.78 738.74 L332.94 740.16 L313.84 756.41 L310.39 758.03 L306.53 756.41 L305.31 752.75 L305.31 732.44 L294.14 738.13 Z" stroke-width="1.32" fill="#fff"/>
<path d="M304.5 696.28 L331.31 679.63 L333.75 676.78 L337.41 677.19 L339.44 675.56 L364.63 658.91 L367.88 658.5 L368.49 661.34 L367.27 689.38 L363.81 692.42 L341.06 701.56 L339.03 704 L335.99 721.88 L332.94 727.16 L328.67 730 L313.03 739.75 L311 732.03 L307.34 730 L300.44 721.88 L299.22 705.63 Z" stroke-width="1.32"/>
<ellipse cx="365.85" cy="649.77" rx="1.9" ry="2.7" transform="rotate(20 365.85 649.77)" stroke-width="1.2"/>
<ellipse cx="335.17" cy="671.5" rx="1.9" ry="2.7" transform="rotate(20 335.17 671.5)" stroke-width="1.2"/>
<ellipse cx="365.24" cy="695.06" rx="1.9" ry="2.7" transform="rotate(20 365.24 695.06)" stroke-width="1.2"/>
<ellipse cx="333.34" cy="733.05" rx="1.9" ry="2.7" transform="rotate(20 333.34 733.05)" stroke-width="1.2"/>
<ellipse cx="310.8" cy="747.88" rx="1.9" ry="2.7" transform="rotate(20 310.8 747.88)" stroke-width="1.2"/>
<path d="M317.5 690.39 L337.81 701.56 L363.2 687.35" stroke-width="1.2"/>
<path d="M313.44 693.44 L335.78 705.63 L335.78 716.8" stroke-width="1.2"/>
<path d="M347.97 670.08 L366.25 680.24" stroke-width="1.2"/>
<path d="M345.94 673.13 L365.24 683.69" stroke-width="1.2"/>
<path d="M301.25 709.69 L333.75 723.91" stroke-width="1.2"/>
<path d="M300.23 713.75 L332.74 727.56" stroke-width="1.2"/>
<path d="M305.31 724.92 L325.63 736.5" stroke-width="1.2"/>
<path d="M311.41 732.03 C312.08 733.39 314.12 738.8 315.47 740.16 C316.82 741.51 318.35 739.48 319.53 740.16 C320.72 740.84 322.07 743.54 322.58 744.22" stroke-width="1.2" />
<ellipse cx="320" cy="690.8" rx="2.2" ry="1.6" transform="rotate(0 320 690.8)" stroke-width="1.2"/>
<path d="M299.38 703.67 C299.23 703.81 298.8 704.38 298.47 704.51 C298.13 704.64 297.71 704.61 297.38 704.44 C297.06 704.27 296.72 703.9 296.53 703.49 C296.33 703.08 296.2 702.5 296.2 702 C296.2 701.5 296.33 700.92 296.53 700.51 C296.72 700.1 297.06 699.73 297.38 699.56 C297.71 699.39 298.13 699.36 298.47 699.49 C298.8 699.62 299.23 700.19 299.38 700.33" stroke-width="1.32" />
<path d="M299.38 729.67 C299.23 729.81 298.8 730.38 298.47 730.51 C298.13 730.64 297.71 730.61 297.38 730.44 C297.06 730.27 296.72 729.9 296.53 729.49 C296.33 729.08 296.2 728.5 296.2 728 C296.2 727.5 296.33 726.92 296.53 726.51 C296.72 726.1 297.06 725.73 297.38 725.56 C297.71 725.39 298.13 725.36 298.47 725.49 C298.8 725.62 299.23 726.19 299.38 726.33" stroke-width="1.32" />
<path d="M348.1 748.1 L349.4 743.6 L354.6 741.3 L386.7 717.1 L389.3 713.8 L393.9 713.8 L395.5 709.5 L416.8 692.5 L418.4 689.3 L422.7 687.6 L426.6 689.9 L428.2 694.2 L426.6 699.1 L425.3 733.4 L425.3 739.0 L422.0 744.2 L416.8 745.2 L413.5 743.6 L389.0 754.7 L387.3 757.9 L388.3 772.7 L389.3 777.6 L387.7 781.5 L384.1 782.8 L380.8 783.8 L367.7 795.9 L366.4 799.2 L361.8 800.8 L357.6 797.9 L357.2 792.6 L358.6 789.0 L359.5 781.2 L354.6 780.5 L352.0 782.5 L347.4 782.5 L344.8 778.9 L345.8 774.3 L348.7 772.3 Z" stroke-width="1.32" />
<path d="M354.6 755.3 L355.6 751.7 L387.3 727.2 L389.3 724.6 L393.9 722.6 L395.2 720.0 L416.8 702.7 L419.4 702.3 L419.7 705.6 L419.1 730.1 L417.4 733.7 L413.5 736.0 L384.1 750.1 L382.4 753.4 L383.4 770.4 L381.5 774.3 L379.2 777.2 L367.7 787.7 L365.1 786.1 L365.1 774.6 L363.8 772.0 L355.3 773.0 L354.0 770.4 Z" stroke-width="1.32" />
<circle cx="353.6" cy="747.5" r="2.3" stroke-width="1.2"/>
<circle cx="390.6" cy="718.7" r="2.3" stroke-width="1.2"/>
<circle cx="421.7" cy="694.2" r="2.3" stroke-width="1.2"/>
<circle cx="418.4" cy="737.7" r="2.3" stroke-width="1.2"/>
<circle cx="384" cy="776" r="2.3" stroke-width="1.2"/>
<circle cx="362.8" cy="794" r="2.3" stroke-width="1.2"/>
<circle cx="349.7" cy="777.6" r="2.3" stroke-width="1.2"/>
<path d="M404.3 779.2 L473.5 726.3 Q476.5 724 480 725 L483.5 727.3 Q486.6 729.5 486.2 733.5 L482.4 772 Q481.8 778.5 479 781.5 Q474.5 786 468 782 L446.6 793.4 L448 811.5 Q448 816.5 444.5 820 L428.5 836.8 L424 842 Q421.5 843.8 418.4 843.2 Q413 841.8 412.9 838 L412.9 826 L404.3 823.6 Q398.2 822 398.1 817 L401.2 786 Q401.8 781.5 404.3 779.2 Z" stroke-width="1.32" fill="#fff" />
<path d="M407.5 781.5 L405 817.5 Q405.2 820.8 408.5 821.3 L415.8 823 L416 838.5 Q416.3 841 419 841.5" stroke-width="1.2" />
<path d="M407.5 781.5 L476 729.5 Q479 727.5 481.5 729.5" stroke-width="1.08" />
<path d="M448.7 764 Q448.7 761.8 450.5 760.6 L473 744.8 Q475.4 743.4 475.6 746 L477.6 766 Q477.8 768.5 475.5 769.8 L451 784.2 Q448.7 785.4 448.7 783 Z" stroke-width="1.32" />
<path d="M451 765 L473.2 749.5 L474.8 766.5 L451 780.5 Z" stroke-width="1.08" />
<path d="M412.9 787.5 Q412.9 785.4 414.8 784.2 L442.5 768 Q444.8 766.7 444.8 769.2 L444.8 784.8 Q444.8 787 442.8 788.3 L416 808.8 Q413.7 810.3 413.6 807.8 Z" stroke-width="1.32" />
<path d="M415.5 789 L442.3 772.8 L442.3 785.5 L416.2 805 Z" stroke-width="1.08" />
<path d="M426.2 812 L441 801.2 L441.7 813.5 L435.5 817.6 L434 822.8 L427 827.5 Z" stroke-width="1.2" />
<path d="M428.6 813.2 L439 805.5" stroke-width="1.08" />
<path d="M419 813 L419.5 832 M421.8 811.5 L422.3 830" stroke-width="1.08" />
<path d="M451 748.8 L472.9 734 M452 751.2 L473 736.8 M451 748.8 L452 751.2" stroke-width="1.08" />
<path d="M415.2 778.4 L441.7 761.3 M416 780.8 L442 764 M415.2 778.4 L416 780.8" stroke-width="1.08" />
<path d="M403.2 792 L402 812 M406 790.5 L404.8 813.5" stroke-width="1.08" />
<ellipse cx="480.7" cy="735.6" rx="2.29" ry="2.97" transform="rotate(20 480.7 735.6)" stroke-width="1.2" fill="#fff"/>
<ellipse cx="448.7" cy="758.2" rx="2.29" ry="2.97" transform="rotate(20 448.7 758.2)" stroke-width="1.2" fill="#fff"/>
<ellipse cx="476" cy="777.6" rx="2.29" ry="2.97" transform="rotate(20 476 777.6)" stroke-width="1.2" fill="#fff"/>
<ellipse cx="412.9" cy="787" rx="2.29" ry="2.97" transform="rotate(20 412.9 787)" stroke-width="1.2" fill="#fff"/>
<ellipse cx="441.7" cy="817.4" rx="2.29" ry="2.97" transform="rotate(20 441.7 817.4)" stroke-width="1.2" fill="#fff"/>
<ellipse cx="409" cy="818.1" rx="2.29" ry="2.97" transform="rotate(20 409 818.1)" stroke-width="1.2" fill="#fff"/>
<ellipse cx="423" cy="834.5" rx="2.29" ry="2.97" transform="rotate(20 423 834.5)" stroke-width="1.2" fill="#fff"/>
<path d="M444.23 758.39 C444.32 758.03 444.46 756.87 444.77 756.21 C445.08 755.55 445.57 754.9 446.1 754.43 C446.63 753.97 447.31 753.6 447.96 753.42 C448.6 753.24 449.34 753.22 449.97 753.37 C450.6 753.52 451.24 753.86 451.72 754.3 C452.2 754.74 452.62 755.37 452.86 756.02 C453.1 756.67 453.21 757.46 453.16 758.18 C453.11 758.9 452.89 759.69 452.56 760.34 C452.22 760.99 451.72 761.63 451.17 762.07 C450.63 762.52 449.6 762.86 449.29 763.02" stroke-width="1.08" />
<path d="M408.27 788.08 C408.28 787.8 408.22 786.94 408.32 786.39 C408.42 785.83 408.61 785.26 408.87 784.76 C409.12 784.26 409.47 783.77 409.86 783.38 C410.24 782.98 410.71 782.64 411.18 782.39 C411.65 782.15 412.18 781.98 412.69 781.91 C413.19 781.84 413.73 781.86 414.22 781.98 C414.7 782.09 415.19 782.31 415.61 782.59 C416.02 782.88 416.4 783.26 416.7 783.69 C416.99 784.12 417.23 784.63 417.38 785.15 C417.52 785.67 417.54 786.53 417.57 786.81" stroke-width="1.08" />
<path d="M443.55 812.33 C443.83 812.51 444.77 812.95 445.22 813.43 C445.68 813.92 446.06 814.56 446.29 815.22 C446.51 815.88 446.61 816.67 446.56 817.39 C446.51 818.12 446.31 818.9 445.99 819.56 C445.68 820.22 445.21 820.87 444.68 821.36 C444.16 821.84 443.5 822.25 442.86 822.47 C442.22 822.69 441.48 822.78 440.83 822.7 C440.18 822.63 439.5 822.38 438.96 822.02 C438.41 821.66 437.9 821.12 437.55 820.54 C437.21 819.96 436.98 818.85 436.87 818.52" stroke-width="1.08" />
<ellipse cx="489.9" cy="786" rx="4.6" ry="6.8" transform="rotate(-15 489.9 786)" stroke-width="1.68"/>
<ellipse cx="490.3" cy="786.2" rx="2.4" ry="4" transform="rotate(-15 490.3 786.2)" stroke-width="1.44"/>
<path d="M485.6 787 L489 788.5" stroke-width="1.44"/>
<path d="M517.62 797.95 L499.25 787.58" stroke-width="1.2"/>
<path d="M515.12 802.39 L496.75 792.02" stroke-width="1.2"/>
<path d="M499.25 787.58 C498.96 787.66 498 787.6 497.49 788.05 C496.99 788.5 496.37 789.61 496.24 790.27 C496.12 790.93 496.66 791.73 496.75 792.02" stroke-width="1.2" />
<line x1="510.89" y1="794.14" x2="507.16" y2="797.9" stroke-width="1.2" stroke="#4a4a4a"/>
<line x1="509.23" y1="793.21" x2="505.51" y2="796.96" stroke-width="1.2" stroke="#4a4a4a"/>
<line x1="507.58" y1="792.28" x2="503.85" y2="796.03" stroke-width="1.2" stroke="#4a4a4a"/>
<line x1="505.92" y1="791.34" x2="502.2" y2="795.1" stroke-width="1.2" stroke="#4a4a4a"/>
<line x1="504.27" y1="790.41" x2="500.54" y2="794.16" stroke-width="1.2" stroke="#4a4a4a"/>
<line x1="502.61" y1="789.47" x2="498.89" y2="793.23" stroke-width="1.2" stroke="#4a4a4a"/>
<line x1="500.96" y1="788.54" x2="497.23" y2="792.29" stroke-width="1.2" stroke="#4a4a4a"/>
<path d="M512.66 801.06 L515.22 796.53 L518.93 795.64 L522.58 797.7 L523.74 801.34 L521.18 805.87 L517.47 806.76 L513.82 804.7 Z" stroke-width="1.32" fill="#fff"/>
<path d="M518.88 798.6 L522.58 797.7 L523.74 801.34 L521.18 805.87 L517.47 806.76 L516.32 803.12 Z" stroke-width="1.2" fill="#fff"/>
<path d="M518.88 798.6 L515.22 796.53" stroke-width="1.08"/>
<path d="M516.32 803.12 L512.66 801.06" stroke-width="1.08"/>
<ellipse cx="520.03" cy="802.23" rx="1.46" ry="2.34" transform="rotate(-150.56 520.03 802.23)" stroke-width="0.96"/>
<path d="M201.57 607.3 L219.32 597.92" stroke-width="1.2"/>
<path d="M199.33 603.05 L217.08 593.68" stroke-width="1.2"/>
<path d="M219.32 597.92 C219.42 597.64 220 596.89 219.91 596.25 C219.82 595.62 219.26 594.56 218.79 594.13 C218.32 593.7 217.36 593.75 217.08 593.68" stroke-width="1.2" />
<line x1="205.39" y1="605.28" x2="204.38" y2="600.38" stroke-width="1.2" stroke="#4a4a4a"/>
<line x1="207.07" y1="604.39" x2="206.06" y2="599.49" stroke-width="1.2" stroke="#4a4a4a"/>
<line x1="208.75" y1="603.5" x2="207.74" y2="598.61" stroke-width="1.2" stroke="#4a4a4a"/>
<line x1="210.43" y1="602.62" x2="209.42" y2="597.72" stroke-width="1.2" stroke="#4a4a4a"/>
<line x1="212.11" y1="601.73" x2="211.1" y2="596.83" stroke-width="1.2" stroke="#4a4a4a"/>
<line x1="213.79" y1="600.84" x2="212.78" y2="595.95" stroke-width="1.2" stroke="#4a4a4a"/>
<line x1="215.47" y1="599.96" x2="214.46" y2="595.06" stroke-width="1.2" stroke="#4a4a4a"/>
<line x1="217.15" y1="599.07" x2="216.14" y2="594.17" stroke-width="1.2" stroke="#4a4a4a"/>
<path d="M192.45 606.12 L193.85 602.1 L197.74 600.04 L201.85 601.15 L204.55 606.28 L203.15 610.3 L199.26 612.36 L195.15 611.25 Z" stroke-width="1.32" fill="#fff"/>
<path d="M200.66 608.34 L199.26 612.36 L195.15 611.25 L192.45 606.12 L193.85 602.1 L197.95 603.21 Z" stroke-width="1.2" fill="#fff"/>
<path d="M200.66 608.34 L204.55 606.28" stroke-width="1.08"/>
<path d="M197.95 603.21 L201.85 601.15" stroke-width="1.08"/>
<ellipse cx="196.55" cy="607.23" rx="1.62" ry="2.61" transform="rotate(-27.83 196.55 607.23)" stroke-width="0.96"/>
<ellipse cx="227.3" cy="587.6" rx="4.6" ry="6.6" transform="rotate(-30 227.3 587.6)" stroke-width="1.68"/>
<ellipse cx="227.6" cy="588" rx="2" ry="3.2" transform="rotate(-30 227.6 588)" stroke-width="1.56"/>
<path d="M225.5 585.5 L229.5 590.5" stroke-width="1.2"/>
<ellipse cx="274.6" cy="758.4" rx="4.8" ry="6.6" transform="rotate(-40 274.6 758.4)" stroke-width="1.68"/>
<ellipse cx="274.8" cy="758.7" rx="2" ry="3.2" transform="rotate(-40 274.8 758.7)" stroke-width="1.56"/>
<path d="M272.5 756.5 L277 760.8" stroke-width="1.2"/>
<path d="M253.67 778.02 L267.13 770.4" stroke-width="1.2"/>
<path d="M251.41 774.01 L264.87 766.4" stroke-width="1.2"/>
<path d="M267.13 770.4 C267.23 770.13 267.79 769.37 267.7 768.76 C267.6 768.15 267.04 767.15 266.57 766.76 C266.09 766.37 265.15 766.46 264.87 766.4" stroke-width="1.2" />
<line x1="255.76" y1="776.84" x2="254.71" y2="772.15" stroke-width="1.2" stroke="#4a4a4a"/>
<line x1="257.41" y1="775.9" x2="256.36" y2="771.21" stroke-width="1.2" stroke="#4a4a4a"/>
<line x1="259.06" y1="774.97" x2="258.02" y2="770.27" stroke-width="1.2" stroke="#4a4a4a"/>
<line x1="260.72" y1="774.03" x2="259.67" y2="769.34" stroke-width="1.2" stroke="#4a4a4a"/>
<line x1="262.37" y1="773.1" x2="261.32" y2="768.4" stroke-width="1.2" stroke="#4a4a4a"/>
<line x1="264.02" y1="772.16" x2="262.98" y2="767.47" stroke-width="1.2" stroke="#4a4a4a"/>
<line x1="265.68" y1="771.22" x2="264.63" y2="766.53" stroke-width="1.2" stroke="#4a4a4a"/>
<path d="M245.49 777.13 L246.6 773.63 L250.08 771.66 L253.65 772.52 L256.11 776.87 L255 780.37 L251.52 782.34 L247.95 781.48 Z" stroke-width="1.32" fill="#fff"/>
<path d="M252.63 778.84 L251.52 782.34 L247.95 781.48 L245.49 777.13 L246.6 773.63 L250.16 774.49 Z" stroke-width="1.2" fill="#fff"/>
<path d="M252.63 778.84 L256.11 776.87" stroke-width="1.08"/>
<path d="M250.16 774.49 L253.65 772.52" stroke-width="1.08"/>
<ellipse cx="249.06" cy="777.98" rx="1.4" ry="2.25" transform="rotate(-29.5 249.06 777.98)" stroke-width="0.96"/>
<path d="M220.39 765.27 L227.99 762.67" stroke-width="1.2"/>
<path d="M217.61 757.13 L225.21 754.53" stroke-width="1.2"/>
<path d="M220.39 765.27 C220.07 765 219.02 764.6 218.47 763.66 C217.91 762.71 217.22 760.67 217.07 759.59 C216.93 758.5 217.52 757.54 217.61 757.13" stroke-width="1.2" />
<path d="M227.99 762.67 C228.08 762.26 228.67 761.3 228.53 760.21 C228.38 759.13 227.69 757.09 227.13 756.14 C226.58 755.2 225.53 754.8 225.21 754.53" stroke-width="1.2" />
<line x1="220.49" y1="765.24" x2="219.03" y2="756.65" stroke-width="1.2" stroke="#4a4a4a"/>
<line x1="222.28" y1="764.62" x2="220.83" y2="756.03" stroke-width="1.2" stroke="#4a4a4a"/>
<line x1="224.08" y1="764.01" x2="222.62" y2="755.42" stroke-width="1.2" stroke="#4a4a4a"/>
<line x1="225.88" y1="763.39" x2="224.42" y2="754.8" stroke-width="1.2" stroke="#4a4a4a"/>
<path d="M201.71 764.45 L204.92 758.18 L212.72 754.58 L219.2 757.33 L222.49 766.35 L219.28 772.62 L211.48 776.22 L205 773.47 Z" stroke-width="1.32" fill="#fff"/>
<path d="M214.69 769.95 C214.71 774.54 214.39 775.16 211.48 776.22 C208.58 777.28 207.93 777 205 773.47 C202.07 769.94 201.74 769.04 201.71 764.45 C201.69 759.86 202.01 759.24 204.92 758.18 C207.82 757.12 208.47 757.4 211.4 760.93 C214.33 764.46 214.66 765.36 214.69 769.95 Z" stroke-width="1.32" fill="#fff" />
<path d="M222.49 766.35 L214.69 769.95" stroke-width="1.2"/>
<path d="M219.2 757.33 L211.4 760.93" stroke-width="1.2"/>
<ellipse cx="208.2" cy="767.3" rx="2.3" ry="3.8" transform="rotate(-20 208.2 767.3)" stroke-width="1.44"/>
<ellipse cx="183.3" cy="781" rx="3.8" ry="5.2" transform="rotate(-25 183.3 781)" stroke-width="1.8"/>
<path d="M173.7 787.8 L179 784" stroke-width="1.2" stroke-dasharray="20 3.5 1.5 3.5"/>
<path d="M187.8 778.5 L200.5 771" stroke-width="1.2" stroke-dasharray="20 3.5 1.5 3.5"/>
<path d="M138 796 L147.5 789.2 L149 787.3 L157 784.2 L161.2 784 L165.6 785.6 L167 796 L160 799 L153 801.5 L141 805.6 Q137.5 806 136.7 801.5 Q136.5 797.5 138 796 Z" stroke-width="1.32" fill="#fff" />
<ellipse cx="139.2" cy="800.8" rx="2.2" ry="4.7" transform="rotate(-15 139.2 800.8)" stroke-width="1.2"/>
<path d="M149 787.3 L151.8 802 M153.6 785.5 L156.3 800.4 M161.2 784 L163 797.8" stroke-width="1.2" />
<path d="M165.6 787 L170.6 788.4 L171.6 793 L167 796 M168 787.6 L169 794.6 M170 788.2 L170.7 793.6" stroke-width="1.08" />
<path d="M82.5 815.2 C86 816.8 88.5 818.5 91.2 819.4" stroke-width="1.2" />
<path d="M82.5 817.6 C85.5 819 88 820.6 91.5 821.3" stroke-width="1.2" />
<path d="M91 820.3 C97 820.8 100.5 818.5 104 816 C108 813 111.5 811 115.4 809.2" stroke-width="5.28" />
<path d="M91.6 820.3 C97 820.6 100.5 818.4 104 815.9 C108 812.9 111.5 810.9 114.9 809.4" stroke-width="2.64" stroke="#fff" />
<path d="M115.2 808.4 C120 807 122.5 805.5 125.5 804.6 C129 803.5 132.5 802 136.5 799.6" stroke-width="1.2" />
<path d="M115.6 810.4 C119.5 808 123 807.3 126 805 C129.5 802.8 133 803.2 137 802.4" stroke-width="1.2" />
<path d="M58.5 807.3 L64 805 L68.8 806.2 L68.6 815 L59.6 817 Z" stroke-width="1.32" fill="#fff" />
<path d="M69.6 808.4 L72.7 807.3 L82.5 812.7 L82.5 819.2 L72.7 820.6 L69.3 815.8 Z" stroke-width="1.32" fill="#fff" />
<path d="M72.7 807.3 L72.9 814.2 L82.5 819.2 M72.9 814.2 L69.3 815.8" stroke-width="1.08" />
<path d="M61.5 810.2 L64.6 809.4 L64.8 813 L61.8 813.8 Z" stroke-width="1.08" />
<g class="mini" transform="translate(475.9 454.2) scale(0.39)" stroke="#555">
<path d="M61.5 334.5 L128 363.5 Q131.5 365 132.5 369 C136 382 140 392 140 401 C140 408 139.5 413 137 418 C133 428 126 434.5 117.5 436.5 C108 437.5 92 432 83 427 C74 421 68 414 65 405 C63 400 62.5 397 61.5 394.5 C58 392.5 53 393.5 50 392 C45 390 43 386 43.3 382.5 C44 377 48 373.5 52 372.5 C54 372 56 372.5 57.5 372 L56.8 340 Q56.8 333.5 61.5 334.5 Z" stroke-width="1.32" />
<path d="M70.5 349.5 L121 371.5 Q124 373 125 377 C128 386 131.7 394 131.7 401 C131.7 408 131 413 129 417.5 C126 424 120 428 112 428 C104 428 94 424.5 87 420.5 C80 416 75 410 72.3 404.5 C70 399 69.5 395 68.3 391.5 C66 388 61.5 388.5 60.5 385 C59.5 381 61.5 377 67.7 374.8 L68 352 Q68 348.5 70.5 349.5 Z" stroke-width="1.32" />
<circle cx="65.67" cy="344" r="2.4" stroke-width="1.2"/>
<circle cx="126.67" cy="368.33" r="2.4" stroke-width="1.2"/>
<circle cx="133.33" cy="399.67" r="2.4" stroke-width="1.2"/>
<circle cx="120" cy="428" r="2.4" stroke-width="1.2"/>
<circle cx="52.67" cy="382.33" r="2.4" stroke-width="1.2"/>
</g>
<g class="mini" transform="translate(376.8 413.6) scale(0.4)" stroke="#555">
<path d="M460.31 449.77 C461.74 450.7 465.72 452.2 467.42 454.44 C469.13 456.67 468.03 458.01 468.85 460.94 C469.66 463.86 469.94 462.97 471.49 469.06 C473.03 475.16 474.74 485.8 476.56 491.41 C478.39 497.01 479.73 495.15 480.63 497.1 C481.52 499.05 481.64 499.78 481.03 501.16 C480.42 502.54 479.08 503.03 477.58 504 C476.08 504.98 474.94 503.19 473.52 506.03 C472.1 508.88 473.11 514 470.47 518.22 C467.83 522.45 465.6 524.56 460.31 527.16 C455.03 529.76 450.56 531.06 444.06 531.22 C437.56 531.38 433.5 529.84 427.81 527.97 C422.13 526.1 420.5 525.53 415.63 521.88 C410.75 518.22 407.83 516.6 403.44 509.69 C399.05 502.78 395.8 495.47 393.69 487.35 C391.58 479.22 391.74 475.77 392.88 469.06 C394.01 462.36 397.75 457.89 399.38 453.83 C401 449.77 400.68 449.77 401 448.75" stroke-width="1.32" />
<path d="M401 448.75 L403.03 430.88 L460.31 449.77" stroke-width="1.32"/>
<ellipse cx="434.9" cy="486.9" rx="41" ry="32" transform="rotate(60 434.9 486.9)" stroke-width="1.32"/>
<circle cx="416.6" cy="443.7" r="2.7" stroke-width="1.2"/>
<circle cx="438.99" cy="447.13" r="1.8" stroke-width="1.2"/>
<circle cx="466" cy="456.47" r="1.8" stroke-width="1.2"/>
<circle cx="478.6" cy="499.53" r="1.8" stroke-width="1.2"/>
<circle cx="459.3" cy="521.88" r="1.8" stroke-width="1.2"/>
<circle cx="431.88" cy="523.91" r="1.8" stroke-width="1.2"/>
<circle cx="407.5" cy="506.64" r="1.8" stroke-width="1.2"/>
<circle cx="402.02" cy="497.5" r="1.8" stroke-width="1.2"/>
<circle cx="397.75" cy="469.47" r="1.8" stroke-width="1.2"/>
<circle cx="403.84" cy="452.41" r="1.8" stroke-width="1.2"/>
</g>
<g class="mini" transform="translate(433.85 298.9) scale(0.41)" stroke="#555">
<path d="M348.1 748.1 L349.4 743.6 L354.6 741.3 L386.7 717.1 L389.3 713.8 L393.9 713.8 L395.5 709.5 L416.8 692.5 L418.4 689.3 L422.7 687.6 L426.6 689.9 L428.2 694.2 L426.6 699.1 L425.3 733.4 L425.3 739.0 L422.0 744.2 L416.8 745.2 L413.5 743.6 L389.0 754.7 L387.3 757.9 L388.3 772.7 L389.3 777.6 L387.7 781.5 L384.1 782.8 L380.8 783.8 L367.7 795.9 L366.4 799.2 L361.8 800.8 L357.6 797.9 L357.2 792.6 L358.6 789.0 L359.5 781.2 L354.6 780.5 L352.0 782.5 L347.4 782.5 L344.8 778.9 L345.8 774.3 L348.7 772.3 Z" stroke-width="1.32" />
<path d="M354.6 755.3 L355.6 751.7 L387.3 727.2 L389.3 724.6 L393.9 722.6 L395.2 720.0 L416.8 702.7 L419.4 702.3 L419.7 705.6 L419.1 730.1 L417.4 733.7 L413.5 736.0 L384.1 750.1 L382.4 753.4 L383.4 770.4 L381.5 774.3 L379.2 777.2 L367.7 787.7 L365.1 786.1 L365.1 774.6 L363.8 772.0 L355.3 773.0 L354.0 770.4 Z" stroke-width="1.32" />
<circle cx="353.6" cy="747.5" r="2.3" stroke-width="1.2"/>
<circle cx="390.6" cy="718.7" r="2.3" stroke-width="1.2"/>
<circle cx="421.7" cy="694.2" r="2.3" stroke-width="1.2"/>
<circle cx="418.4" cy="737.7" r="2.3" stroke-width="1.2"/>
<circle cx="384" cy="776" r="2.3" stroke-width="1.2"/>
<circle cx="362.8" cy="794" r="2.3" stroke-width="1.2"/>
<circle cx="349.7" cy="777.6" r="2.3" stroke-width="1.2"/>
</g>
<g class="mini" transform="translate(455.6 591.1) scale(0.42)" stroke="#555">
<path d="M166.72 124.97 C169.3 130.32 167.96 127.41 168.94 129.89 C169.91 132.36 169.92 132.38 170.61 134.87 C171.3 137.35 171.31 137.37 171.7 139.81 C172.1 142.26 172.1 142.28 172.19 144.63 C172.29 146.99 172.29 147.01 172.07 149.23 C171.86 151.45 171.86 151.47 171.35 153.52 C170.83 155.56 170.83 155.58 170.02 157.4 C169.22 159.23 169.21 159.25 168.13 160.82 C167.05 162.4 167.04 162.41 165.71 163.7 C164.37 165 164.36 165.01 162.8 165.99 C161.24 166.97 161.22 166.98 159.46 167.64 C157.7 168.3 157.69 168.3 155.76 168.62 C153.84 168.93 153.82 168.94 151.77 168.91 C149.72 168.88 149.7 168.88 147.57 168.5 C145.43 168.13 145.41 168.12 143.23 167.41 C141.05 166.69 141.03 166.69 138.85 165.65 C136.67 164.61 136.64 164.6 134.5 163.26 C132.36 161.92 132.34 161.9 130.28 160.28 C128.22 158.66 128.2 158.65 126.26 156.78 C124.32 154.91 124.3 154.9 122.53 152.82 C120.75 150.74 120.73 150.72 119.15 148.48 C117.56 146.23 117.55 146.21 116.19 143.83 C114.83 141.46 114.82 141.44 113.71 138.99 C112.6 136.53 112.59 136.51 111.76 134.03 C110.92 131.54 110.92 131.52 110.37 129.05 C109.83 126.58 109.82 126.56 109.58 124.15 C109.33 121.75 109.13 122.22 109.39 119.43 C109.65 116.65 110.82 115.31 110.6 113 C110.38 110.69 108.65 111.75 108.5 110.2 C108.35 108.65 108.75 107.97 110 106.8 C111.25 105.62 112.5 106.45 113.5 105.5 C114.5 104.55 114.58 104.22 114 103 C113.42 101.78 112.45 102.15 111.2 100.6 C109.95 99.05 109.15 98.82 109 96.8 C108.85 94.78 108.95 93.9 110.6 92.5 C112.25 91.1 113.9 92.83 115.6 91.2 C117.3 89.58 115.85 87.92 117.4 86 C118.95 84.08 119.45 83.7 121.8 83.5 C124.15 83.3 124.62 83.47 126.8 85.2 C128.97 86.93 127.22 88.68 130.5 90.4 C133.78 92.12 134.45 90.02 139.9 92.1 C145.35 94.17 147.88 95.78 152.3 98.7 C156.73 101.62 156.03 101.35 157.6 103.8 C159.17 106.25 156.32 103.21 158.6 108.5 C160.88 113.79 164.13 119.62 166.72 124.97 Z" stroke-width="1.32" />
<ellipse cx="142.7" cy="132.3" rx="30.4" ry="20" transform="rotate(54.8 142.7 132.3)" stroke-width="1.32"/>
<ellipse cx="124.9" cy="93.8" rx="3.9" ry="4.6" transform="rotate(-20 124.9 93.8)" stroke-width="1.32"/>
<ellipse cx="132.6" cy="101.2" rx="2" ry="2.8" transform="rotate(-20 132.6 101.2)" stroke-width="1.2"/>
<ellipse cx="151.1" cy="107.2" rx="2" ry="2.8" transform="rotate(-20 151.1 107.2)" stroke-width="1.2"/>
<ellipse cx="166.9" cy="143.6" rx="2" ry="2.8" transform="rotate(-20 166.9 143.6)" stroke-width="1.2"/>
<ellipse cx="158.3" cy="161" rx="2" ry="2.8" transform="rotate(-20 158.3 161)" stroke-width="1.2"/>
<ellipse cx="121.4" cy="145.7" rx="2" ry="2.8" transform="rotate(-20 121.4 145.7)" stroke-width="1.2"/>
<ellipse cx="115.2" cy="129.5" rx="2" ry="2.8" transform="rotate(-20 115.2 129.5)" stroke-width="1.2"/>
</g>
<g class="mini" transform="translate(370 511.3) scale(0.41)" stroke="#555">
<path d="M392.2 351.98 L394 348.89 L440.27 313.42 L539.24 287.71 L544.38 288.74 L544.9 291.31 L542.33 293.88 L495.54 327.81 L400.94 354.81 L394 355.06 Z" stroke-width="1.32"/>
<path d="M411.99 342.98 L442.84 318.56 L527.67 296.71 L494.25 322.42 Z" stroke-width="1.32"/>
<circle cx="397.34" cy="351.21" r="1.7" stroke-width="1.2"/>
<circle cx="422.28" cy="331.41" r="1.7" stroke-width="1.2"/>
<circle cx="442.84" cy="315.48" r="1.7" stroke-width="1.2"/>
<circle cx="478.83" cy="305.71" r="1.7" stroke-width="1.2"/>
<circle cx="509.68" cy="297.48" r="1.7" stroke-width="1.2"/>
<circle cx="539.24" cy="290.28" r="1.7" stroke-width="1.2"/>
<circle cx="516.62" cy="307.76" r="1.7" stroke-width="1.2"/>
<circle cx="494.25" cy="324.99" r="1.7" stroke-width="1.2"/>
<circle cx="460.32" cy="333.98" r="1.7" stroke-width="1.2"/>
<circle cx="429.22" cy="342.47" r="1.7" stroke-width="1.2"/>
</g>
<text x="181.5" y="210.3" font-size="13" text-anchor="middle">1</text>
<line x1="181.8" y1="213" x2="181.8" y2="242" stroke-width="1.2"/>
<text x="140" y="62.3" font-size="13" text-anchor="middle">48</text>
<line x1="140.7" y1="64.5" x2="140.7" y2="90.5" stroke-width="1.2"/>
<text x="190.3" y="129.3" font-size="13" text-anchor="middle">36</text>
<line x1="199.5" y1="124.5" x2="224" y2="124.5" stroke-width="1.2"/>
<text x="274.4" y="56" font-size="13" text-anchor="middle">40</text>
<line x1="274.1" y1="58" x2="274.1" y2="81" stroke-width="1.2"/>
<text x="308" y="38.8" font-size="13" text-anchor="middle">38</text>
<line x1="307.7" y1="41" x2="307.7" y2="64.5" stroke-width="1.2"/>
<text x="327.7" y="50.5" font-size="13" text-anchor="middle">35</text>
<line x1="327.6" y1="52.5" x2="327.6" y2="74.5" stroke-width="1.2"/>
<text x="341.5" y="36.1" font-size="13" text-anchor="middle">34</text>
<line x1="341.8" y1="38" x2="341.8" y2="68.5" stroke-width="1.2"/>
<text x="360" y="26.6" font-size="13" text-anchor="middle">33</text>
<line x1="360" y1="28.5" x2="360" y2="60.5" stroke-width="1.2"/>
<text x="382.8" y="107.2" font-size="13" text-anchor="middle">39</text>
<line x1="358.8" y1="103.4" x2="374.7" y2="103.4" stroke-width="1.2"/>
<text x="314.6" y="113.9" font-size="13" text-anchor="middle">37</text>
<line x1="313.75" y1="94.3" x2="313.75" y2="104" stroke-width="1.2"/>
<text x="353.9" y="132.2" font-size="13" text-anchor="middle">40</text>
<line x1="323.9" y1="128.4" x2="346" y2="128.4" stroke-width="1.2"/>
<text x="348.3" y="153.5" font-size="13" text-anchor="middle">32</text>
<line x1="322.5" y1="149.8" x2="340" y2="149.8" stroke-width="1.2"/>
<text x="370.5" y="182" font-size="13" text-anchor="middle">30</text>
<line x1="347.3" y1="178.2" x2="362" y2="178.2" stroke-width="1.2"/>
<text x="357" y="196.3" font-size="13" text-anchor="middle">31</text>
<line x1="335" y1="192" x2="349.5" y2="192" stroke-width="1.2"/>
<text x="354" y="211.3" font-size="13" text-anchor="middle">29</text>
<line x1="327.5" y1="207" x2="345" y2="207" stroke-width="1.2"/>
<text x="268.5" y="221.8" font-size="13" text-anchor="middle">7</text>
<line x1="272" y1="217.5" x2="290" y2="217.5" stroke-width="1.2"/>
<text x="313.2" y="245.8" font-size="13" text-anchor="middle">3</text>
<line x1="313.25" y1="248" x2="313.25" y2="271" stroke-width="1.2"/>
<text x="415" y="91.3" font-size="13" text-anchor="middle">24</text>
<line x1="414" y1="93.5" x2="414" y2="112.5" stroke-width="1.2"/>
<text x="451.7" y="79.3" font-size="13" text-anchor="middle">43</text>
<line x1="451.3" y1="81.7" x2="451.3" y2="101.5" stroke-width="1.2"/>
<text x="485.8" y="96" font-size="13" text-anchor="middle">26</text>
<line x1="485.3" y1="98.3" x2="485.3" y2="121.5" stroke-width="1.2"/>
<text x="507.7" y="82.6" font-size="13" text-anchor="middle">25</text>
<line x1="507.3" y1="85" x2="507.3" y2="104" stroke-width="1.2"/>
<text x="543.5" y="200" font-size="13" text-anchor="middle">27</text>
<line x1="505.3" y1="196" x2="533" y2="196" stroke-width="1.2"/>
<text x="500.5" y="225.3" font-size="13" text-anchor="middle">23</text>
<line x1="461.3" y1="220.7" x2="489.5" y2="220.7" stroke-width="1.2"/>
<text x="476" y="250.8" font-size="13" text-anchor="middle">22</text>
<line x1="434.7" y1="246.5" x2="464.5" y2="246.5" stroke-width="1.2"/>
<text x="447" y="283" font-size="13" text-anchor="middle">13</text>
<line x1="416.5" y1="279.5" x2="437" y2="279.5" stroke-width="1.2"/>
<text x="547.8" y="317" font-size="13" text-anchor="middle">46</text>
<line x1="516" y1="314" x2="538.4" y2="314" stroke-width="1.2"/>
<text x="386.6" y="390.1" font-size="13" text-anchor="middle">15</text>
<line x1="348.7" y1="386.5" x2="376.5" y2="386.5" stroke-width="1.2"/>
<text x="434.4" y="420.6" font-size="13" text-anchor="middle">44</text>
<line x1="434.5" y1="422.8" x2="434.5" y2="439.5" stroke-width="1.2"/>
<text x="100" y="325.3" font-size="13" text-anchor="middle">47</text>
<line x1="99.3" y1="327.3" x2="99.3" y2="347" stroke-width="1.2"/>
<text x="159" y="377.3" font-size="13" text-anchor="middle">5</text>
<line x1="158.3" y1="350.7" x2="158.3" y2="367" stroke-width="1.2"/>
<text x="197" y="304.8" font-size="13" text-anchor="middle">2</text>
<line x1="201.5" y1="301.7" x2="215" y2="301.7" stroke-width="1.2"/>
<text x="239.6" y="349.8" font-size="13" text-anchor="middle">28</text>
<line x1="235.9" y1="325" x2="235.9" y2="341" stroke-width="1.2"/>
<line x1="234.6" y1="325" x2="233.2" y2="341" stroke-width="1.2"/>
<text x="255" y="321.3" font-size="13" text-anchor="middle">4</text>
<line x1="255" y1="323.3" x2="255" y2="333.5" stroke-width="1.2"/>
<text x="196" y="432" font-size="13" text-anchor="middle">2</text>
<line x1="195.9" y1="404" x2="195.9" y2="421.5" stroke-width="1.2"/>
<text x="211.8" y="451.6" font-size="13" text-anchor="middle">6</text>
<line x1="217.8" y1="448.4" x2="235.8" y2="448.4" stroke-width="1.2"/>
<text x="297.6" y="429.3" font-size="13" text-anchor="middle">17</text>
<line x1="267.9" y1="426.1" x2="287.5" y2="426.1" stroke-width="1.2"/>
<text x="302.3" y="446.3" font-size="13" text-anchor="middle">16</text>
<line x1="275.7" y1="442.5" x2="293" y2="442.5" stroke-width="1.2"/>
<text x="215.8" y="471.9" font-size="13" text-anchor="middle">17</text>
<line x1="224.3" y1="468.7" x2="242.3" y2="468.7" stroke-width="1.2"/>
<text x="221.5" y="489.3" font-size="13" text-anchor="middle">18</text>
<line x1="229.3" y1="485.7" x2="248.2" y2="485.7" stroke-width="1.2"/>
<text x="339.3" y="477.1" font-size="13" text-anchor="middle">14</text>
<line x1="310.4" y1="473.2" x2="330" y2="473.2" stroke-width="1.2"/>
<text x="226.25" y="556.8" font-size="13" text-anchor="middle">12</text>
<line x1="225.75" y1="560" x2="225.75" y2="580" stroke-width="1.2"/>
<text x="163" y="611.3" font-size="13" text-anchor="middle">11</text>
<line x1="171.5" y1="607" x2="192.5" y2="607" stroke-width="1.2"/>
<text x="168.75" y="697.3" font-size="13" text-anchor="middle">8</text>
<line x1="175" y1="692.3" x2="206" y2="692.3" stroke-width="1.2"/>
<text x="552" y="558.8" font-size="13" text-anchor="middle">49</text>
<line x1="552.9" y1="561" x2="552.9" y2="576" stroke-width="1.2"/>
<text x="452.2" y="674.5" font-size="13" text-anchor="middle">45</text>
<line x1="428.2" y1="689.3" x2="444.6" y2="676.2" stroke-width="1.2"/>
<text x="451.1" y="717" font-size="13" text-anchor="middle">19</text>
<line x1="450.1" y1="719.3" x2="450.1" y2="741.5" stroke-width="1.2"/>
<text x="520.6" y="771" font-size="13" text-anchor="middle">20</text>
<line x1="520.8" y1="773.6" x2="520.8" y2="793.9" stroke-width="1.2"/>
<text x="488.4" y="825.3" font-size="13" text-anchor="middle">21</text>
<line x1="488.7" y1="795.6" x2="488.7" y2="814.5" stroke-width="1.2"/>
<text x="278.5" y="800.8" font-size="13" text-anchor="middle">12</text>
<line x1="278.5" y1="766" x2="278.5" y2="790.8" stroke-width="1.2"/>
<text x="252.9" y="819.3" font-size="13" text-anchor="middle">10</text>
<line x1="252.3" y1="784.5" x2="252.3" y2="809.5" stroke-width="1.2"/>
<text x="217.1" y="805.8" font-size="13" text-anchor="middle">9</text>
<line x1="217.4" y1="774.6" x2="217.4" y2="795.8" stroke-width="1.2"/>
<text x="185.5" y="821.3" font-size="13" text-anchor="middle">42</text>
<line x1="185" y1="788" x2="185" y2="809" stroke-width="1.2"/>
<text x="159.3" y="831.9" font-size="13" text-anchor="middle">41</text>
<line x1="159.6" y1="802.8" x2="159.6" y2="814.5" stroke-width="1.2"/>
<path d="M244.8 167.5 L216.5 192" stroke-width="1.2"/>
<line x1="214.06" y1="194.05" x2="215.14" y2="193.15" stroke-width="1.32"/>
<path d="M213.3 194.8 L212.4 195.5 L238.6 207.4" stroke-width="1.2"/>
<line x1="242.36" y1="209.02" x2="243.64" y2="209.58" stroke-width="1.32"/>
<path d="M246.7 211.1 L254.2 214.2 L229.9 232.9" stroke-width="1.2"/>
<line x1="226.25" y1="235.83" x2="227.35" y2="234.97" stroke-width="1.32"/>
<path d="M190.9 371.2 L156 413.6" stroke-width="1.2"/>
<line x1="151.85" y1="418.44" x2="152.75" y2="417.36" stroke-width="1.32"/>
<path d="M148.6 422.3 L114.9 462.2" stroke-width="1.2"/>
<line x1="110.75" y1="467.74" x2="111.65" y2="466.66" stroke-width="1.32"/>
<path d="M107.4 472.1 L100 482.1 L166 493.5" stroke-width="1.2"/>
<line x1="172.81" y1="494.68" x2="174.19" y2="494.92" stroke-width="1.32"/>
<path d="M181 496 L348.5 525" stroke-width="1.2"/>
<line x1="355.31" y1="526.18" x2="356.69" y2="526.42" stroke-width="1.32"/>
<path d="M363.5 527.6 L436 540 L386 588" stroke-width="1.2"/>
<path d="M229.3 353.2 L225.3 377.7 L219.4 384.3" stroke-width="1.2" stroke-dasharray="20 3.5 1.5 3.5"/>
<path d="M405 123 L393 134 L385.5 180" stroke-width="1.2" stroke-dasharray="20 3.5 1.5 3.5"/>
<path d="M464.7 140 L479.7 131.7" stroke-width="1.2" stroke-dasharray="20 3.5 1.5 3.5"/>
<path d="M360 299 L375.2 290.5 L384.5 297 L393 292.3" stroke-width="1.2" stroke-dasharray="20 3.5 1.5 3.5"/>
<path d="M266 712.3 L237.4 728.5 L237.4 753.4 L231.2 755.9" stroke-width="1.2" stroke-dasharray="20 3.5 1.5 3.5"/>
<path d="M279.8 755.9 L332.1 719.8 L372 690" stroke-width="1.2" stroke-dasharray="20 3.5 1.5 3.5"/>
<path d="M297.5 223.75 L297.5 242.5" stroke-width="1.2" stroke-dasharray="20 3.5 1.5 3.5"/>
<rect x="148.25" y="817.35" width="23.4" height="22.9" fill="none" stroke="#ed1c24" stroke-width="4.7" stroke-linejoin="miter"/>
</g>
</svg>
</body></html>
